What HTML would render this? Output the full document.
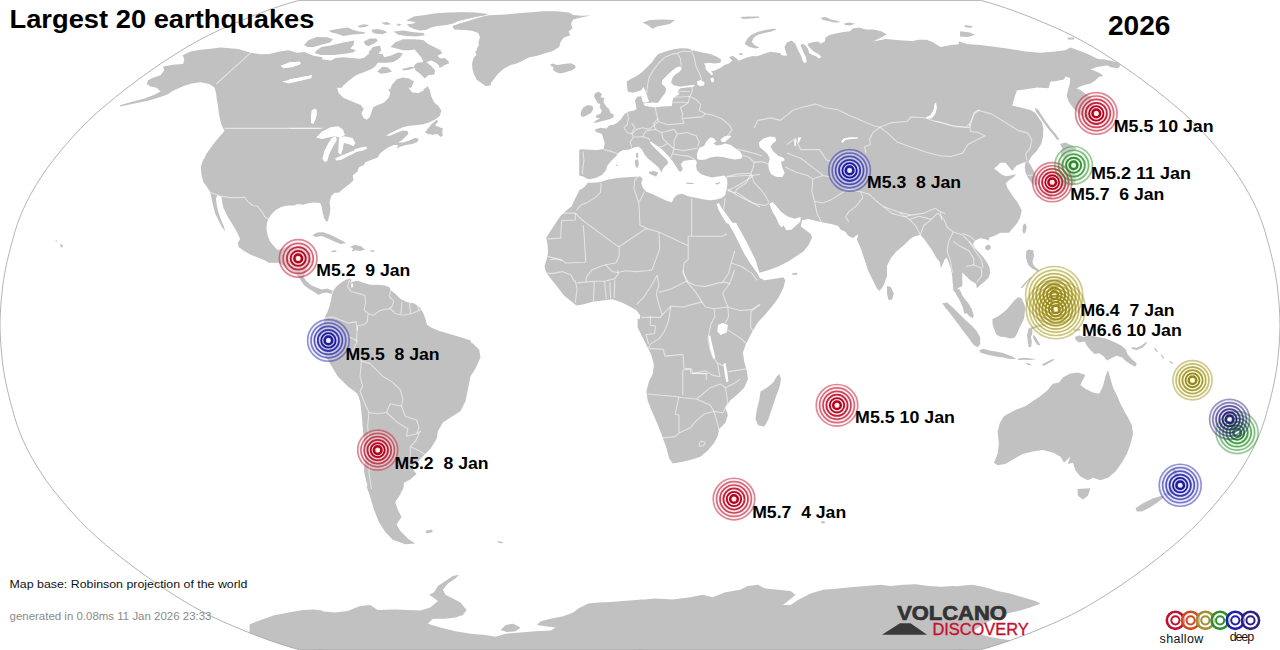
<!DOCTYPE html>
<html><head><meta charset="utf-8"><title>Largest 20 earthquakes</title>
<style>
html,body{margin:0;padding:0;background:#fff;}
body{width:1280px;height:650px;overflow:hidden;font-family:"Liberation Sans",sans-serif;}
svg{display:block;position:absolute;left:0;top:0;}
text{font-family:"Liberation Sans",sans-serif;}
.lbl{font-weight:bold;font-size:17px;fill:#000;}
</style></head>
<body>
<svg width="1280" height="650" viewBox="0 0 1280 650">
<rect width="1280" height="650" fill="#fff"/>
<defs><clipPath id="clip"><path d="M299.4,649.6 294.9,648.4 290.0,647.1 284.9,645.5 279.5,643.8 273.8,641.8 267.9,639.8 261.8,637.5 255.4,635.1 249.0,632.6 242.4,629.9 235.7,627.1 228.9,624.2 222.2,621.3 215.6,618.2 209.2,615.1 203.0,611.9 197.0,608.7 191.2,605.4 185.6,602.1 180.1,598.8 174.7,595.4 169.4,592.0 164.1,588.5 158.9,585.1 153.8,581.5 148.7,578.0 143.7,574.4 138.7,570.8 133.8,567.1 128.9,563.5 124.1,559.8 119.4,556.0 114.7,552.3 110.1,548.5 105.6,544.7 101.2,540.9 96.8,537.1 92.6,533.2 88.5,529.4 84.5,525.5 80.7,521.6 77.0,517.7 73.4,513.7 69.9,509.8 66.4,505.8 63.0,501.9 59.7,497.9 56.4,493.9 53.2,489.9 50.2,485.9 47.2,481.9 44.4,477.9 41.8,473.9 39.2,469.9 36.7,465.9 34.3,461.9 31.9,457.8 29.7,453.8 27.6,449.8 25.6,445.8 23.7,441.7 21.9,437.7 20.3,433.7 18.7,429.7 17.3,425.6 16.0,421.6 14.7,417.6 13.6,413.6 12.5,409.5 11.4,405.5 10.3,401.5 9.3,397.5 8.3,393.4 7.3,389.4 6.4,385.4 5.6,381.4 4.8,377.3 4.1,373.3 3.5,369.3 2.9,365.3 2.4,361.2 2.0,357.2 1.6,353.2 1.2,349.2 0.9,345.1 0.6,341.1 0.4,337.1 0.2,333.1 0.1,329.0 0.0,325.0 0.1,321.0 0.2,316.9 0.4,312.9 0.6,308.9 0.9,304.9 1.2,300.8 1.6,296.8 2.0,292.8 2.4,288.8 2.9,284.7 3.5,280.7 4.1,276.7 4.8,272.7 5.6,268.6 6.4,264.6 7.3,260.6 8.3,256.6 9.3,252.5 10.3,248.5 11.4,244.5 12.5,240.5 13.6,236.4 14.7,232.4 16.0,228.4 17.3,224.4 18.7,220.3 20.3,216.3 21.9,212.3 23.7,208.3 25.6,204.2 27.6,200.2 29.7,196.2 31.9,192.2 34.3,188.1 36.7,184.1 39.2,180.1 41.8,176.1 44.4,172.1 47.2,168.1 50.2,164.1 53.2,160.1 56.4,156.1 59.7,152.1 63.0,148.1 66.4,144.2 69.9,140.2 73.4,136.3 77.0,132.3 80.7,128.4 84.5,124.5 88.5,120.6 92.6,116.8 96.8,112.9 101.2,109.1 105.6,105.3 110.1,101.5 114.7,97.7 119.4,94.0 124.1,90.2 128.9,86.5 133.8,82.9 138.7,79.2 143.7,75.6 148.7,72.0 153.8,68.5 158.9,64.9 164.1,61.5 169.4,58.0 174.7,54.6 180.1,51.2 185.6,47.9 191.2,44.6 197.0,41.3 203.0,38.1 209.2,34.9 215.6,31.8 222.2,28.7 228.9,25.8 235.7,22.9 242.4,20.1 249.0,17.4 255.4,14.9 261.8,12.5 267.9,10.2 273.8,8.2 279.5,6.2 284.9,4.5 290.0,2.9 294.9,1.6 299.4,0.4 980.6,0.4 985.1,1.6 990.0,2.9 995.1,4.5 1000.5,6.2 1006.2,8.2 1012.1,10.2 1018.2,12.5 1024.6,14.9 1031.0,17.4 1037.6,20.1 1044.3,22.9 1051.1,25.8 1057.8,28.7 1064.4,31.8 1070.8,34.9 1077.0,38.1 1083.0,41.3 1088.8,44.6 1094.4,47.9 1099.9,51.2 1105.3,54.6 1110.6,58.0 1115.9,61.5 1121.1,64.9 1126.2,68.5 1131.3,72.0 1136.3,75.6 1141.3,79.2 1146.2,82.9 1151.1,86.5 1155.9,90.2 1160.6,94.0 1165.3,97.7 1169.9,101.5 1174.4,105.3 1178.8,109.1 1183.2,112.9 1187.4,116.8 1191.5,120.6 1195.5,124.5 1199.3,128.4 1203.0,132.3 1206.6,136.3 1210.1,140.2 1213.6,144.2 1217.0,148.1 1220.3,152.1 1223.6,156.1 1226.8,160.1 1229.8,164.1 1232.8,168.1 1235.6,172.1 1238.2,176.1 1240.8,180.1 1243.3,184.1 1245.7,188.1 1248.1,192.2 1250.3,196.2 1252.4,200.2 1254.4,204.2 1256.3,208.3 1258.1,212.3 1259.7,216.3 1261.3,220.3 1262.7,224.4 1264.0,228.4 1265.3,232.4 1266.4,236.4 1267.5,240.5 1268.6,244.5 1269.7,248.5 1270.7,252.5 1271.7,256.6 1272.7,260.6 1273.6,264.6 1274.4,268.6 1275.2,272.7 1275.9,276.7 1276.5,280.7 1277.1,284.7 1277.6,288.8 1278.0,292.8 1278.4,296.8 1278.8,300.8 1279.1,304.9 1279.4,308.9 1279.6,312.9 1279.8,316.9 1279.9,321.0 1280.0,325.0 1279.9,329.0 1279.8,333.1 1279.6,337.1 1279.4,341.1 1279.1,345.1 1278.8,349.2 1278.4,353.2 1278.0,357.2 1277.6,361.2 1277.1,365.3 1276.5,369.3 1275.9,373.3 1275.2,377.3 1274.4,381.4 1273.6,385.4 1272.7,389.4 1271.7,393.4 1270.7,397.5 1269.7,401.5 1268.6,405.5 1267.5,409.5 1266.4,413.6 1265.3,417.6 1264.0,421.6 1262.7,425.6 1261.3,429.7 1259.7,433.7 1258.1,437.7 1256.3,441.7 1254.4,445.8 1252.4,449.8 1250.3,453.8 1248.1,457.8 1245.7,461.9 1243.3,465.9 1240.8,469.9 1238.2,473.9 1235.6,477.9 1232.8,481.9 1229.8,485.9 1226.8,489.9 1223.6,493.9 1220.3,497.9 1217.0,501.9 1213.6,505.8 1210.1,509.8 1206.6,513.7 1203.0,517.7 1199.3,521.6 1195.5,525.5 1191.5,529.4 1187.4,533.2 1183.2,537.1 1178.8,540.9 1174.4,544.7 1169.9,548.5 1165.3,552.3 1160.6,556.0 1155.9,559.8 1151.1,563.5 1146.2,567.1 1141.3,570.8 1136.3,574.4 1131.3,578.0 1126.2,581.5 1121.1,585.1 1115.9,588.5 1110.6,592.0 1105.3,595.4 1099.9,598.8 1094.4,602.1 1088.8,605.4 1083.0,608.7 1077.0,611.9 1070.8,615.1 1064.4,618.2 1057.8,621.3 1051.1,624.2 1044.3,627.1 1037.6,629.9 1031.0,632.6 1024.6,635.1 1018.2,637.5 1012.1,639.8 1006.2,641.8 1000.5,643.8 995.1,645.5 990.0,647.1 985.1,648.4 980.6,649.6Z"/></clipPath></defs>
<g clip-path="url(#clip)">
<g fill="#c1c1c1" stroke="none">
<path d="M201.9,164.3 206.1,154.2 213.2,144.2 219.4,136.7 224.5,130.9 221.7,125.4 220.2,119.9 218.9,114.1 218.2,108.3 217.7,104.1 216.7,99.1 216.2,94.0 214.7,87.8 209.4,84.0 200.6,82.3 191.8,83.5 184.3,85.8 178.6,88.3 173.0,90.8 166.8,94.8 158.0,97.8 148.0,100.8 135.4,103.3 120.4,106.6 119.9,105.3 132.9,101.6 145.5,98.3 154.2,94.8 160.5,91.5 156.7,87.8 150.5,86.5 146.7,84.0 148.0,80.3 153.0,77.7 160.5,75.2 164.3,70.2 163.0,66.5 173.0,64.7 183.1,63.9 184.3,58.9 182.6,55.2 190.6,51.4 200.6,49.7 208.2,48.9 220.7,47.6 238.2,48.9 250.8,52.7 260.8,54.2 269.6,53.9 278.4,51.7 288.4,50.2 297.2,52.7 304.7,51.9 313.5,55.7 322.3,57.2 322.3,164.3Z"/>
<path d="M289.2,51.0 299.4,54.1 313.5,56.5 317.5,58.8 330.8,60.4 335.5,58.0 343.3,57.3 352.7,58.0 359.0,58.8 363.7,58.0 368.4,54.1 373.1,51.8 377.1,54.1 382.5,54.1 384.1,57.3 390.4,55.7 398.2,52.5 402.9,53.3 399.8,58.0 393.5,62.0 387.3,62.7 377.8,62.7 375.5,65.9 371.6,69.0 363.7,72.2 355.9,75.3 349.6,80.0 343.3,85.5 340.2,90.2 341.0,95.7 343.3,102.7 289.2,102.7Z"/>
<path d="M368.4,52.5 373.1,47.1 380.2,45.5 381.0,50.2 377.8,54.9 371.6,54.9Z"/>
<path d="M304.1,44.7 308.8,40.0 316.7,36.9 327.6,37.3 333.1,39.2 330.0,42.4 321.4,44.7 313.5,47.1 307.3,47.1Z"/>
<path d="M315.9,51.0 321.4,47.1 330.8,45.5 337.1,43.9 343.3,42.4 348.8,41.6 354.3,40.5 353.5,44.7 350.4,48.6 355.9,50.2 352.7,52.5 343.3,54.1 333.9,54.9 321.4,54.9 315.1,53.3Z"/>
<path d="M329.2,30.6 337.1,29.0 348.0,27.5 352.7,29.8 359.0,31.4 365.3,32.2 363.7,33.7 352.7,34.5 343.3,36.1 337.1,33.7 330.8,32.2Z"/>
<path d="M357.5,25.9 363.7,24.3 369.2,25.1 365.3,27.0 359.8,27.5Z"/>
<path d="M371.6,29.8 377.8,29.0 384.1,30.6 387.3,32.2 382.5,34.2 375.5,33.7 372.4,32.2Z"/>
<path d="M363.7,41.6 370.0,38.4 376.3,38.4 377.8,40.8 373.1,43.9 368.4,46.3 365.3,44.7Z"/>
<path d="M393.5,31.4 402.9,30.6 413.9,32.2 423.3,32.9 424.9,35.3 415.5,36.4 404.5,35.8 398.2,34.8Z"/>
<path d="M406.1,20.4 413.9,16.5 424.9,14.9 435.9,13.3 448.4,12.5 462.5,12.2 475.1,12.5 486.1,13.8 487.6,14.9 478.2,16.5 468.8,18.0 459.4,20.4 453.1,23.5 446.9,25.1 437.5,25.9 431.2,27.5 426.5,29.8 420.2,30.6 413.9,29.0 409.2,26.7 406.9,24.3 413.9,23.5 415.5,22.0Z"/>
<path d="M381.0,22.7 387.3,22.0 391.2,24.3 385.7,25.1Z"/>
<path d="M397.5,23.5 401.4,24.3 399.8,25.9 396.7,25.1Z"/>
<path d="M390.4,47.1 395.1,42.4 402.9,39.2 413.9,39.2 423.3,40.0 428.0,43.9 434.3,47.1 440.6,50.2 442.2,53.3 437.5,55.7 440.6,58.8 446.9,61.2 449.2,63.5 443.7,65.1 441.4,67.5 435.9,62.7 431.2,60.4 426.5,62.0 431.2,65.9 435.1,70.6 434.3,74.5 428.0,75.3 424.9,78.4 420.2,73.7 415.5,70.6 413.9,65.9 417.1,62.7 423.3,62.0 421.8,58.0 417.8,53.3 414.7,49.4 409.2,50.2 402.9,50.2 396.7,48.6Z"/>
<path d="M377.1,71.4 382.5,66.7 388.0,67.5 392.0,71.4 387.3,72.9 381.0,73.7Z"/>
<path d="M402.2,69.0 410.8,66.7 415.5,67.5 409.2,69.8 402.9,70.6Z"/>
<path d="M390.4,102.7 388.0,94.1 392.0,84.7 396.7,79.2 402.9,77.6 409.2,78.4 413.9,81.6 411.6,87.1 409.2,90.2 415.5,91.8 423.3,89.4 428.0,86.3 429.6,91.0 431.2,97.3 432.0,102.7Z"/>
<path d="M453.1,25.9 459.4,23.5 467.3,21.2 475.1,18.8 482.9,16.5 490.8,14.9 490.8,85.5 486.1,85.5 479.8,81.6 475.9,76.9 474.3,70.6 472.0,64.3 473.5,58.0 478.2,53.3 476.7,48.6 479.8,43.9 480.6,37.6 478.2,32.9 472.0,30.6 462.5,29.8 454.7,29.0Z"/>
<path d="M289.2,89.2 429.6,89.2 431.2,96.3 434.3,102.5 438.2,105.7 441.4,110.4 439.8,115.9 435.9,119.0 429.6,122.2 423.3,124.2 415.5,125.3 409.2,125.8 402.9,127.3 396.7,130.0 390.4,133.1 385.7,136.3 390.4,135.5 396.7,132.7 402.9,130.5 407.6,131.1 408.4,133.9 405.3,137.1 402.2,139.9 398.2,142.5 402.9,142.5 409.2,140.5 415.5,137.8 418.6,138.9 417.4,142.1 412.4,144.1 406.1,144.9 399.8,146.8 396.7,148.8 398.2,144.9 393.5,144.9 387.3,148.0 382.5,151.2 379.4,154.3 377.8,157.5 371.6,159.8 365.3,162.2 363.7,165.3 359.0,166.9 357.5,171.6 352.7,175.5 353.5,180.2 349.6,184.1 343.3,188.8 338.6,192.7 289.2,192.7Z"/>
<path d="M424.9,132.4 428.0,128.4 432.0,123.7 436.7,119.8 438.2,121.4 435.1,125.3 439.0,126.9 442.9,128.4 442.2,132.4 442.9,135.5 440.6,137.1 437.5,133.9 432.7,134.7 428.0,133.9Z"/>
<path d="M203.3,159.2 201.0,166.3 201.3,174.1 203.3,182.0 207.3,187.5 210.4,192.2 212.0,200.8 213.5,207.1 215.1,213.3 219.0,221.2 222.2,227.5 225.3,231.4 223.7,225.9 220.6,218.8 218.2,211.8 216.7,204.7 215.9,198.4 217.5,195.3 221.4,196.9 222.2,202.4 223.7,208.6 227.6,216.5 232.4,224.3 237.1,232.2 240.2,239.2 237.8,243.1 238.6,247.1 244.1,251.0 251.2,254.9 259.0,258.0 265.3,260.4 268.4,262.7 312.4,262.7 309.2,254.1 306.1,247.8 299.8,245.5 293.5,247.8 290.4,252.5 284.1,254.1 278.6,251.0 274.7,247.1 270.0,241.6 267.6,235.3 266.5,229.0 266.9,222.7 268.4,218.8 271.6,214.1 275.5,210.2 281.0,207.1 287.3,205.5 293.5,205.5 298.2,203.9 302.9,204.7 309.2,203.1 315.5,202.4 320.2,203.1 321.8,207.1 322.5,211.8 324.1,218.0 326.5,222.0 328.0,220.4 329.6,214.9 330.4,208.6 329.6,202.4 331.2,196.1 335.9,191.4 342.2,186.7 348.4,180.4 353.1,174.1 356.3,169.4 362.5,164.7 367.3,159.2Z"/>
<path d="M312.4,235.3 317.1,232.5 323.3,232.2 329.6,234.5 335.9,237.6 342.2,240.8 346.1,243.1 340.6,243.9 334.3,241.6 328.0,238.4 321.8,236.1 315.5,236.9Z"/>
<path d="M350.0,247.1 354.7,244.7 361.0,246.3 364.9,249.4 360.2,251.0 355.5,250.2 351.6,251.8 353.1,248.6Z"/>
<path d="M331.2,250.7 335.9,250.2 336.7,251.8 332.0,252.2Z"/>
<path d="M370.4,250.2 374.3,250.2 374.3,251.8 370.4,251.8Z"/>
<path d="M269.2,249.4 274.7,251.0 279.4,249.4 288.8,246.3 301.4,247.8 310.8,252.5 309.2,260.4 306.1,269.8 303.7,277.6 306.9,281.6 311.6,285.5 317.1,287.8 321.8,289.4 327.3,288.6 332.7,291.0 332.0,294.1 326.5,292.5 321.8,293.3 318.6,294.9 313.9,291.8 308.4,288.6 303.7,284.7 300.6,280.0 296.7,274.5 288.8,268.2 279.4,263.5 273.1,258.8 269.2,257.3Z"/>
<path d="M332.7,291.8 335.9,287.1 340.6,283.1 345.3,280.0 350.0,278.4 351.6,280.0 350.3,283.1 353.1,281.6 357.8,280.8 364.1,283.1 370.4,284.7 378.2,284.7 384.5,285.5 389.2,287.1 390.8,290.2 395.5,294.1 400.2,298.8 406.5,302.0 414.3,303.5 419.8,307.5 422.9,312.2 425.3,318.4 426.9,324.7 431.6,327.8 439.4,331.0 447.3,333.3 455.1,335.7 462.9,338.0 470.8,340.4 470.8,342.7 317.1,342.7 320.2,334.1 323.3,324.7 324.9,316.9 327.3,312.2 329.6,305.9 331.2,299.6 332.0,294.1Z"/>
<path d="M320.0,324.7 417.8,324.7 420.3,331.0 427.8,332.3 432.9,329.8 445.4,333.5 460.4,337.3 473.0,343.6 479.2,349.8 480.5,357.3 475.5,368.6 470.5,376.2 468.0,388.7 465.5,401.2 460.4,411.3 450.4,417.5 442.9,422.6 437.9,431.3 436.6,438.9 430.3,448.9 422.8,456.4 416.6,462.7 411.5,467.7 416.6,474.0 410.3,479.5 404.0,482.7 402.8,490.3 368.9,490.3 366.4,481.5 363.9,471.5 365.1,456.4 363.9,438.9 362.6,426.3 361.4,411.3 360.1,401.2 357.6,393.7 347.6,386.2 337.6,376.2 330.0,363.6 323.8,353.6 318.0,343.6 317.0,336.0Z"/>
<path d="M366.4,485.7 370.2,497.0 373.9,509.6 378.9,522.1 385.2,532.1 392.7,539.7 405.3,544.2 415.3,543.4 407.8,538.4 400.3,530.9 396.5,524.6 401.5,517.1 397.7,509.6 395.2,502.0 400.3,494.5 404.0,485.7Z"/>
<path d="M425.3,530.9 431.6,529.6 432.9,532.1 426.6,533.4Z"/>
<path d="M498.1,540.9 503.1,542.2 501.8,543.4 497.6,542.2Z"/>
<path d="M452.5,25.9 462.0,23.5 474.5,20.4 483.9,16.5 493.3,14.9 505.9,14.4 518.4,13.3 531.0,12.2 543.5,11.3 556.1,11.3 568.6,12.5 573.3,14.9 581.2,15.7 590.6,15.4 581.2,17.6 573.3,19.6 571.0,23.5 572.5,28.2 568.6,31.4 570.2,35.3 563.9,37.6 560.8,41.6 559.2,47.1 552.9,51.0 545.1,53.3 537.3,55.7 529.4,57.3 523.1,60.4 516.9,63.5 510.6,65.1 504.3,68.2 498.0,73.7 493.3,80.0 488.6,85.5 485.5,86.0 480.8,82.4 476.9,80.0 473.7,73.7 472.2,67.5 472.9,61.2 476.9,56.5 475.3,51.8 479.2,47.1 478.4,42.4 480.0,36.9 478.4,32.2 471.4,30.6 462.0,29.8 454.1,29.5Z"/>
<path d="M439.2,14.9 449.4,13.3 462.0,12.5 474.5,12.9 485.5,14.1 477.6,16.5 468.2,18.8 457.3,21.2 447.8,22.7 440.0,24.3 439.2,24.3Z"/>
<path d="M439.2,58.8 444.7,58.0 449.4,62.0 444.7,65.1 440.0,67.5 439.2,67.5Z"/>
<path d="M549.8,65.1 552.9,63.5 556.9,65.1 563.9,64.0 570.2,63.2 574.9,65.1 575.7,67.8 571.8,70.3 565.5,72.2 560.8,73.4 556.1,72.2 552.9,69.8 553.7,67.5Z"/>
<path d="M580.8,112.2 583.1,107.5 587.8,105.1 592.5,105.9 593.3,109.0 591.0,112.9 587.1,115.3 583.1,116.9 580.8,116.1Z"/>
<path d="M594.9,93.3 598.8,91.8 602.0,94.1 600.4,97.3 604.3,98.0 603.5,102.0 605.9,105.9 609.0,109.0 610.6,112.9 613.7,114.5 613.7,116.9 609.8,119.2 603.5,120.8 597.3,122.4 593.3,123.1 596.5,120.0 600.4,118.4 595.7,117.6 596.5,115.3 600.4,113.7 602.0,110.6 599.6,107.5 600.4,104.3 597.3,102.7 595.7,99.6 594.1,96.5Z"/>
<path d="M604.3,142.7 602.0,134.1 595.7,131.8 594.9,129.4 600.4,127.8 606.7,128.6 609.0,125.5 613.7,124.7 617.6,122.4 621.6,118.4 624.7,113.7 628.6,111.4 634.1,110.6 636.5,109.0 635.7,104.3 634.9,100.4 637.3,96.8 640.9,96.2 636.5,94.1 631.8,92.5 627.8,91.8 627.1,87.1 626.7,81.6 631.8,78.4 638.0,75.3 642.7,71.4 647.5,66.7 652.2,62.0 655.3,57.3 658.4,54.1 664.7,51.8 672.5,49.4 680.4,48.2 688.2,48.6 692.9,50.2 702.4,52.5 710.2,54.1 716.5,56.5 721.2,59.6 720.4,62.7 714.9,63.5 708.6,62.7 703.9,63.5 705.5,65.9 711.8,68.2 716.5,69.8 721.2,67.5 724.3,65.1 729.0,63.5 732.2,60.4 729.0,57.3 732.9,55.7 736.9,58.8 740.0,62.0 746.3,60.4 752.5,57.3 758.8,55.7 765.1,53.3 770.6,51.8 776.1,52.5 780.8,53.3 780.8,142.7Z"/>
<path d="M739.2,53.3 742.4,53.3 742.4,54.9 739.2,54.9Z"/>
<path d="M579.2,140.4 780.8,140.4 780.8,222.7 579.2,222.7Z"/>
<path d="M588.9,181.3 583.9,185.0 578.9,191.3 575.1,198.8 571.4,206.4 565.1,211.4 560.1,216.4 555.1,223.9 550.1,231.4 546.3,237.7 547.6,245.2 548.1,252.8 546.3,260.3 544.5,266.6 546.3,272.8 550.1,277.8 555.1,284.1 560.1,290.4 563.9,295.4 570.1,300.4 576.4,305.4 583.9,304.2 592.7,301.7 602.7,300.4 612.8,299.2 622.8,302.9 630.3,306.7 636.6,310.4 640.3,315.5 639.1,323.0 640.3,330.5 641.6,335.5 749.4,335.5 750.7,331.8 755.7,324.2 763.2,316.7 770.8,307.9 778.3,297.9 783.3,287.9 785.3,280.3 783.3,277.3 773.3,279.1 764.5,280.3 759.5,277.8 757.0,272.8 750.7,264.0 744.4,254.0 739.4,244.0 734.4,233.9 728.1,222.7 721.8,212.6 718.1,205.1 716.8,201.3 720.6,197.6 715.6,200.1 705.5,199.6 695.5,197.6 688.0,195.1 680.5,195.1 675.5,197.6 672.9,203.9 662.9,201.3 652.9,198.8 644.1,195.1 640.3,190.1 641.6,183.8 640.3,177.5 635.3,176.3 627.8,177.0 615.3,178.0 605.2,180.0 595.2,182.5Z"/>
<path d="M728.1,168.7 728.1,207.6 733.1,217.6 739.4,228.9 745.7,240.2 750.7,250.3 755.7,260.3 758.2,269.1 759.5,272.8 768.2,270.3 778.3,266.6 788.3,261.5 795.8,256.5 803.4,251.5 808.4,245.2 812.1,237.7 810.9,233.9 805.9,230.2 800.8,226.4 802.1,220.2 808.4,218.9 818.4,221.4 830.9,223.9 841.0,226.4 847.2,232.7 852.3,236.5 852.3,168.7Z"/>
<path d="M792.1,273.3 797.1,272.8 797.1,274.8 792.6,275.1Z"/>
<path d="M637.6,318.7 637.6,327.5 641.4,335.0 646.4,345.1 651.4,355.1 653.9,365.1 652.7,373.9 648.9,381.4 646.4,391.5 647.6,400.3 651.4,410.3 656.4,421.6 661.4,434.1 666.5,447.9 669.0,457.9 672.7,463.4 682.8,461.7 692.8,459.2 700.3,456.7 707.8,450.4 714.1,442.9 717.9,435.4 719.1,429.1 725.4,422.8 727.9,415.3 725.4,407.8 730.4,400.3 737.9,394.0 744.2,387.7 748.0,378.9 746.7,370.2 744.2,361.4 742.9,352.6 745.5,345.1 750.5,335.0 755.5,326.3 760.5,318.7Z"/>
<path d="M779.3,373.9 781.1,378.9 779.3,387.7 775.5,397.7 771.8,409.0 768.0,420.3 764.3,426.6 758.0,425.3 755.5,419.1 756.7,410.3 759.2,400.3 760.5,391.5 766.8,387.7 773.0,382.7 776.8,376.4Z"/>
<path d="M642.5,22.6 650.0,20.1 662.6,19.6 675.1,20.1 670.1,23.8 665.1,25.1 657.6,26.3 652.5,28.8 647.5,25.1Z"/>
<path d="M739.2,60.5 746.3,57.8 752.5,56.0 758.8,56.4 765.1,55.2 771.4,53.1 777.6,53.9 783.9,55.8 787.1,55.5 785.5,50.8 784.4,46.9 787.1,42.2 791.8,40.6 795.2,43.7 797.3,48.4 799.6,53.1 801.5,57.1 802.7,61.0 804.3,63.3 806.7,61.8 805.9,57.1 803.5,52.4 802.0,48.4 800.4,45.3 802.7,43.7 805.9,46.1 808.2,49.2 809.0,53.1 812.2,54.7 816.1,56.3 818.4,58.6 821.6,57.1 818.4,53.9 813.7,51.6 810.6,48.4 807.5,45.3 809.0,42.9 813.7,42.2 818.4,41.4 820.8,43.7 824.7,41.4 825.5,37.5 829.4,35.1 835.7,33.5 843.5,32.0 849.8,31.2 852.9,28.5 859.2,27.6 865.5,29.6 873.3,29.6 881.2,31.2 886.7,34.3 881.2,37.5 876.5,39.8 873.3,41.4 878.0,40.6 885.9,39.0 893.7,39.8 903.1,40.6 912.5,41.1 918.8,39.8 926.7,39.8 932.9,42.2 937.6,45.3 940.8,46.9 951.0,45.1 962.3,43.9 962.3,173.1 739.2,173.1Z"/>
<path d="M820.8,17.8 825.5,17.1 831.0,19.4 837.3,20.7 840.4,22.2 834.1,22.5 827.8,21.0 822.4,19.7Z"/>
<path d="M844.3,23.3 849.8,22.5 855.3,23.8 849.8,25.4 844.8,24.9Z"/>
<path d="M744.7,43.7 747.1,39.0 751.0,35.1 757.3,32.0 765.1,30.1 773.7,28.8 776.9,29.6 771.4,31.6 763.5,33.2 757.3,35.1 753.3,38.2 751.8,42.2 754.9,45.3 759.6,47.6 755.7,48.4 749.4,46.9Z"/>
<path d="M740.0,17.1 747.8,16.6 758.8,16.6 759.6,17.8 751.0,18.6 743.1,19.1Z"/>
<path d="M835.6,161.7 835.6,224.4 838.1,225.7 840.6,229.5 845.6,232.0 848.2,235.7 853.2,238.2 855.7,235.7 858.2,234.5 856.9,239.5 860.7,248.3 864.5,259.6 868.2,270.8 873.2,280.9 877.0,288.4 879.5,290.9 883.3,285.9 887.0,275.9 887.0,265.8 890.8,258.3 895.8,252.0 903.3,245.8 909.6,239.5 914.6,235.7 920.9,233.2 925.9,235.7 929.7,240.7 932.2,249.5 935.9,257.0 939.7,262.1 940.9,268.3 944.7,259.6 947.2,257.0 949.7,263.3 952.2,273.3 954.7,283.4 957.2,288.4 962.3,285.9 962.3,161.7Z"/>
<path d="M887.0,285.9 890.8,287.1 893.8,293.4 892.0,299.7 888.3,299.7 887.0,293.4Z"/>
<path d="M939.2,59.2 1103.1,59.2 1111.0,60.8 1118.0,62.4 1120.4,64.7 1114.1,66.3 1106.3,65.5 1096.9,67.1 1090.6,69.4 1095.3,71.0 1100.0,73.3 1103.1,75.7 1098.4,77.3 1095.3,80.4 1090.6,83.5 1084.3,85.1 1079.6,86.7 1076.5,88.2 1078.0,89.0 1081.2,90.6 1084.3,92.9 1087.5,95.3 1091.4,97.6 1090.3,101.6 1092.9,104.7 1094.5,108.6 1092.9,113.3 1091.4,118.0 1089.0,120.4 1084.3,118.0 1078.0,113.3 1072.5,107.1 1068.6,101.6 1066.7,96.1 1067.8,90.6 1069.9,83.5 1070.2,78.0 1065.5,76.5 1063.9,79.6 1059.2,80.4 1054.5,81.2 1050.6,81.6 1048.5,88.2 1037.3,87.5 1027.8,89.0 1016.9,90.6 1014.5,97.6 1012.2,105.5 1018.4,107.1 1024.7,108.6 1031.0,110.2 1035.7,113.3 1038.8,118.0 1042.0,122.7 1043.5,129.0 1042.7,135.3 1040.4,141.6 1038.0,147.8 1034.1,152.5 1030.2,157.3 1027.8,162.7 939.2,162.7Z"/>
<path d="M1034.9,107.8 1038.0,109.4 1042.0,115.7 1046.7,122.7 1051.4,129.0 1056.1,134.5 1059.2,139.2 1057.6,140.3 1053.7,135.3 1049.0,129.8 1044.3,123.5 1039.6,116.5 1036.0,111.8Z"/>
<path d="M1060.0,143.9 1065.5,142.4 1071.8,145.5 1076.5,148.6 1073.3,151.8 1068.6,154.1 1065.5,158.0 1061.6,156.5 1060.8,152.5 1062.4,148.6Z"/>
<path d="M939.2,129.2 1042.7,129.2 1043.2,136.3 1041.2,144.1 1036.5,151.2 1031.8,155.9 1028.2,161.4 1030.7,165.3 1033.3,170.0 1036.0,175.5 1038.5,180.2 1038.0,184.1 1034.1,185.2 1030.7,181.8 1027.5,177.1 1025.5,172.4 1024.7,167.6 1025.5,162.2 1021.6,163.7 1016.9,165.3 1014.5,168.4 1012.2,170.8 1009.0,166.9 1005.1,162.2 1002.0,160.6 998.0,165.3 994.1,168.4 998.0,171.6 1002.0,174.7 1005.9,176.3 1010.6,175.5 1016.1,174.2 1013.7,177.1 1009.0,180.2 1005.9,183.3 1007.5,188.0 1010.6,192.7 1013.7,197.5 1017.6,202.2 1020.0,206.9 1021.6,211.6 1020.0,217.8 1017.6,222.5 1013.7,227.3 1009.0,232.7 939.2,232.7Z"/>
<path d="M899.2,209.2 1021.6,209.2 1020.0,212.4 1017.6,217.1 1015.3,221.8 1011.4,225.7 1006.7,229.6 1000.4,232.7 994.1,235.9 989.4,237.5 988.6,240.6 984.7,239.0 980.0,238.2 975.3,240.6 972.9,243.7 975.3,248.4 979.2,252.4 983.1,257.1 987.1,262.5 989.4,267.3 990.2,272.7 988.6,277.5 984.7,281.4 980.0,285.3 976.9,288.4 976.1,283.7 972.2,281.4 969.0,279.0 965.9,275.9 962.7,272.7 958.8,272.0 956.5,274.3 955.7,279.0 956.5,285.3 958.0,290.0 961.2,294.7 965.1,299.4 969.0,304.1 971.4,308.8 972.9,313.5 964.3,313.5 962.7,307.3 960.4,301.0 956.5,294.7 953.3,288.4 952.5,280.6 951.8,272.7 950.2,266.5 947.8,260.2 945.5,255.5 942.4,257.8 937.6,258.6 935.3,255.5 931.4,249.2 927.5,243.7 923.5,238.2 920.4,235.1 915.7,235.9 909.4,238.2 904.7,241.4 899.2,246.9Z"/>
<path d="M985.5,246.1 988.6,244.5 991.0,246.4 990.2,249.2 987.1,250.5 985.2,248.4Z"/>
<path d="M1023.1,224.9 1025.5,223.3 1026.7,227.3 1025.5,232.0 1023.9,234.3 1022.4,230.4Z"/>
<path d="M1020.8,287.6 1023.9,283.7 1027.8,279.8 1031.0,277.1 1031.5,278.2 1027.8,281.4 1024.7,285.3 1022.0,288.4Z"/>
<path d="M952.5,289.2 959.6,289.2 962.7,296.3 967.5,302.5 971.4,308.8 973.7,315.1 972.9,318.2 969.0,315.9 965.1,310.4 962.0,304.9 958.8,298.6 955.7,293.1Z"/>
<path d="M942.4,303.3 947.1,302.5 953.3,308.0 959.6,314.3 965.9,320.6 972.2,326.1 976.9,331.6 980.0,337.1 980.3,344.1 977.6,347.3 973.7,344.9 969.0,338.6 964.3,332.4 959.6,326.1 954.9,319.8 950.2,313.5 945.5,308.0Z"/>
<path d="M979.2,350.4 983.1,348.8 989.4,350.4 995.7,351.5 1002.0,352.7 1008.2,355.1 1012.9,356.7 1016.1,359.0 1009.8,359.0 1003.5,357.5 997.3,356.7 991.0,355.6 984.7,354.0 980.3,352.4Z"/>
<path d="M1017.6,358.7 1023.9,357.8 1030.2,358.4 1036.5,359.0 1030.2,360.0 1023.9,359.8 1018.4,360.0Z"/>
<path d="M1025.5,362.5 1030.2,363.7 1031.5,365.6 1027.8,365.0Z"/>
<path d="M1042.0,364.5 1047.5,361.4 1052.9,359.0 1054.5,359.8 1049.0,362.9 1043.5,366.1Z"/>
<path d="M992.5,319.0 997.3,316.7 1002.0,313.5 1006.7,309.6 1010.6,304.9 1014.5,300.2 1018.4,297.1 1021.6,298.6 1023.9,303.3 1025.5,308.0 1024.7,313.5 1023.9,319.0 1021.6,323.7 1019.2,328.4 1016.9,333.9 1014.5,337.8 1009.8,338.6 1005.1,337.1 1000.4,336.7 996.5,334.7 994.1,329.2 992.5,323.7Z"/>
<path d="M1028.6,328.4 1031.8,327.6 1032.5,332.4 1031.0,337.1 1031.8,341.8 1031.0,347.3 1028.6,346.8 1027.8,341.8 1027.1,335.5Z"/>
<path d="M1033.3,334.7 1035.7,337.1 1038.0,341.0 1040.4,344.9 1038.0,345.2 1035.2,341.8 1033.0,337.8Z"/>
<path d="M1031.0,327.6 1036.5,325.3 1042.7,323.7 1047.5,324.8 1042.7,326.4 1036.5,327.6 1032.5,329.2Z"/>
<path d="M1073.3,329.2 1079.6,328.4 1080.4,330.5 1074.1,331.1Z"/>
<path d="M1083.5,336.9 1089.8,335.3 1097.6,336.9 1105.5,338.4 1113.3,341.6 1121.2,345.5 1125.9,349.4 1127.5,354.1 1131.4,358.8 1136.9,363.5 1135.3,366.7 1130.6,364.3 1125.9,361.2 1122.0,357.3 1116.5,355.7 1111.8,358.0 1107.1,360.4 1103.9,356.5 1099.2,353.3 1094.5,354.1 1090.6,350.2 1086.7,345.5 1084.3,340.8Z"/>
<path d="M1074.9,336.9 1079.6,335.3 1084.3,337.6 1085.1,341.6 1078.8,342.4 1075.7,340.0Z"/>
<path d="M1131.4,347.1 1136.9,347.8 1141.6,345.5 1145.5,342.4 1147.1,341.1 1146.3,343.9 1142.4,347.8 1136.9,349.9 1132.2,348.9Z"/>
<path d="M1153.8,347.5 1155.7,348.3 1158.0,352.1 1156.5,352.1Z"/>
<path d="M1160.4,354.1 1162.3,354.9 1164.3,358.4 1162.7,358.4Z"/>
<path d="M1169.0,360.4 1171.4,361.5 1173.3,364.0 1171.1,363.5Z"/>
<path d="M997.6,431.3 1000.1,422.6 1003.9,416.3 1015.2,410.0 1025.2,406.3 1032.7,401.2 1040.3,396.2 1047.8,389.9 1052.8,383.7 1059.1,382.4 1062.8,377.4 1070.3,373.6 1077.9,372.4 1085.4,374.9 1082.9,379.9 1080.4,384.9 1085.4,388.7 1092.9,392.5 1099.2,393.7 1102.9,386.2 1105.5,376.2 1108.0,369.9 1110.5,378.7 1113.0,387.4 1116.7,395.0 1120.5,403.7 1124.3,411.3 1128.0,417.5 1131.8,425.1 1133.0,433.8 1130.5,443.9 1126.8,453.9 1121.8,462.7 1115.5,471.5 1108.0,477.7 1100.4,480.2 1092.9,477.7 1087.9,480.2 1080.4,476.5 1075.4,470.2 1072.9,462.7 1067.8,463.9 1070.3,456.4 1064.1,462.7 1060.3,456.4 1052.8,452.6 1042.8,450.1 1032.7,451.4 1022.7,453.9 1013.9,458.9 1005.1,463.9 997.6,465.2 993.9,462.7 997.6,453.9 998.9,443.9Z"/>
<path d="M1077.4,489.0 1090.4,488.3 1087.9,495.8 1082.9,499.5 1077.9,495.8Z"/>
<path d="M1135.5,508.3 1143.1,503.3 1153.1,498.3 1161.9,495.8 1164.4,497.0 1158.1,502.0 1150.6,507.1 1141.8,511.6 1136.8,511.6Z"/>
<path d="M1163.1,494.5 1168.2,490.8 1173.2,484.5 1175.7,477.0 1171.9,469.4 1174.4,468.2 1180.7,478.2 1185.7,482.0 1181.9,487.0 1175.7,492.0 1169.4,495.8Z"/>
<path d="M958.7,586.1 972.5,584.8 985.1,587.3 997.6,591.1 1010.2,593.6 1022.7,597.3 1035.2,601.1 1040.3,603.6 1040.3,651.3 958.7,651.3Z"/>
<path d="M958.7,41.4 967.5,43.9 980.1,45.1 992.6,46.4 1010.2,48.9 1025.2,51.4 1040.3,52.7 1055.3,51.4 1065.3,50.2 1070.3,47.6 1077.9,50.2 1087.9,53.9 1097.9,58.9 1108.0,61.4 1115.5,63.9 1120.5,65.7 1118.0,68.2 1110.5,67.2 1102.9,61.4 1060.3,61.4 958.7,61.4Z"/>
<path d="M960.0,31.3 970.0,32.6 975.0,35.1 967.5,37.1 960.0,36.4Z"/>
<path d="M965.0,25.1 972.5,26.3 971.3,28.1 964.5,27.1Z"/>
<path d="M1067.8,37.6 1074.1,37.6 1074.1,39.6 1067.8,39.6Z"/>
<path d="M249.5,624.4 260.8,619.9 273.4,615.4 288.4,612.4 303.4,609.9 313.5,609.4 322.3,610.4 322.3,651.3 249.5,651.3Z"/>
<path d="M318.7,611.1 335.0,612.4 347.6,611.1 360.1,606.1 370.2,604.9 377.7,609.9 395.2,609.4 407.8,609.9 420.3,610.4 430.3,607.4 437.9,601.1 432.9,597.3 429.1,594.8 434.1,592.3 437.9,586.1 445.4,581.0 452.9,576.0 459.2,574.8 455.4,578.5 447.9,583.6 442.9,589.8 445.4,594.8 452.9,598.6 460.4,602.4 466.7,609.9 462.9,614.9 455.4,617.4 445.4,618.7 432.9,618.7 427.8,623.7 440.4,627.4 455.4,631.2 470.5,633.7 485.5,635.0 495.5,636.7 505.6,633.7 520.6,632.5 535.7,631.2 550.7,630.4 555.7,627.4 545.7,626.2 536.9,624.9 540.7,621.2 550.7,618.7 563.3,616.2 573.3,612.4 578.3,608.6 588.3,603.6 598.4,602.4 610.9,601.9 623.4,601.1 636.0,599.9 642.3,599.4 642.3,651.3 318.7,651.3Z"/>
<path d="M500.6,629.9 505.6,624.9 513.1,623.7 520.6,627.4 515.6,631.2 506.8,632.0Z"/>
<path d="M638.7,599.9 655.0,598.6 672.6,599.4 690.2,597.3 702.7,594.8 712.7,597.3 725.3,592.3 740.3,589.8 747.8,586.1 757.9,584.8 765.4,588.6 777.9,589.8 790.5,591.1 795.5,594.8 788.0,601.1 782.9,604.9 790.5,604.9 798.0,599.9 810.5,593.6 823.1,589.8 838.1,588.6 850.7,587.3 865.7,586.1 880.8,584.8 890.8,586.1 903.3,584.8 915.9,584.3 928.4,586.1 940.9,586.8 953.5,586.1 962.3,586.6 962.3,651.3 638.7,651.3Z"/>
<path d="M1065.6,158.1 1065.3,164.1 1067.1,170.1 1062.1,176.1 1060.6,180.1 1051.4,182.1 1047.2,188.1 1052.2,188.1 1059.8,186.1 1064.2,190.2 1066.2,185.3 1072.4,185.7 1075.4,183.3 1075.6,176.5 1074.5,170.9 1073.4,165.7 1068.0,158.9Z"/>
<path d="M1047.3,188.5 1044.1,191.4 1048.5,199.0 1052.1,198.6 1052.1,192.2Z"/>
<path d="M1056.3,187.3 1053.3,191.0 1055.8,193.0 1060.5,190.2Z"/>
<path d="M1026.3,250.8 1029.0,249.6 1033.2,250.2 1034.0,256.0 1032.3,262.0 1034.0,266.0 1039.5,270.3 1038.0,271.8 1032.0,268.5 1028.0,264.5 1026.0,258.0Z"/>
<path d="M60.0,244.3 62.6,244.8 63.0,247.0 60.8,247.4Z"/>
<path d="M55.5,240.2 57.0,240.6 57.2,241.8 55.8,241.6Z"/>
<path d="M821.0,521.0 825.0,521.5 824.5,523.6 821.5,523.2Z"/>
</g>
<g fill="#fff" stroke="none">
<path d="M280.4,65.7 288.4,62.7 299.7,61.4 300.9,63.9 292.2,67.2 283.4,68.2Z"/>
<path d="M282.1,81.5 293.4,79.0 304.7,76.5 312.2,75.2 311.0,78.2 300.9,80.8 288.4,83.5Z"/>
<path d="M311.7,110.3 314.7,109.1 315.5,117.9 313.5,124.1 311.0,122.9 311.0,115.4Z"/>
<path d="M289.2,62.0 296.3,62.4 301.0,63.5 296.3,65.6 289.2,65.9Z"/>
<path d="M289.2,79.2 299.4,77.6 312.0,75.3 311.2,77.2 302.5,79.7 293.1,81.6 289.2,81.9Z"/>
<path d="M337.1,87.8 338.6,93.1 343.3,97.8 352.7,101.8 360.6,104.9 363.7,108.8 361.4,113.5 363.7,118.2 366.9,119.8 370.0,116.7 373.1,107.3 377.8,104.9 384.1,102.5 388.8,97.8 390.4,93.1 387.3,87.8Z"/>
<path d="M408.4,87.8 412.4,92.4 418.6,93.1 423.3,90.8 424.1,87.8Z"/>
<path d="M316.2,137.4 321.8,131.7 330.5,127.3 338.2,126.2 343.0,129.5 344.9,135.0 340.0,137.4 334.4,136.3 328.6,137.4 321.8,139.1Z"/>
<path d="M322.5,158.7 324.4,151.0 328.3,143.2 332.0,137.7 335.8,136.3 336.9,139.9 333.0,146.5 329.2,154.3 327.3,160.9 324.4,162.0Z"/>
<path d="M339.1,137.4 344.7,136.3 352.4,138.0 355.4,142.9 353.4,146.2 348.7,144.0 343.8,142.9 342.9,148.4 341.0,154.9 338.2,152.7 338.6,145.1Z"/>
<path d="M335.2,158.2 342.9,154.9 351.3,151.6 356.2,149.9 355.3,152.7 348.5,156.0 340.8,160.0 336.1,160.4Z"/>
<path d="M353.8,149.8 360.6,147.6 366.2,146.5 367.2,148.7 361.5,150.9 355.7,152.0Z"/>
<path d="M312.0,111.2 314.3,108.8 316.7,109.6 316.7,115.1 315.1,120.6 312.7,123.7 311.2,121.4 312.0,116.7Z"/>
<path d="M350.8,283.9 352.8,283.1 353.1,287.1 351.3,287.8Z"/>
<path d="M631.8,93.0 636.5,91.8 641.2,90.2 643.5,87.1 645.9,91.8 647.5,97.3 649.0,101.5 645.9,102.7 642.7,102.0 642.0,98.8 640.9,95.7 637.3,96.2 634.1,94.1Z"/>
<path d="M680.4,66.4 682.0,68.5 679.6,71.7 674.9,74.8 672.5,78.0 671.0,82.4 673.8,85.3 680.4,86.7 688.2,85.6 693.7,84.9 695.3,85.8 692.2,86.9 686.7,87.5 680.4,88.3 677.3,91.0 679.6,94.1 676.5,95.7 673.3,98.0 672.2,102.7 671.8,105.9 667.8,106.2 661.6,106.5 655.3,107.5 649.0,106.5 645.1,105.9 643.1,103.5 647.5,102.9 652.2,102.6 656.9,102.9 658.7,102.0 661.9,97.3 665.0,93.3 666.3,89.4 664.7,86.3 661.6,83.9 662.4,80.0 665.5,76.9 669.1,73.3 672.9,70.1 677.3,67.0Z"/>
<path d="M705.5,65.9 710.2,65.1 714.9,65.9 718.0,68.2 714.9,70.6 711.0,71.4 713.3,73.7 711.8,75.3 708.6,72.2 705.5,69.0Z"/>
<path d="M696.9,81.6 700.8,80.0 704.7,82.4 703.9,85.5 700.0,86.3 697.6,84.7Z"/>
<path d="M710.2,78.4 713.3,77.6 714.1,81.6 711.8,82.4Z"/>
<path d="M578.4,139.6 603.8,139.6 604.8,143.5 603.5,149.0 597.3,150.1 589.4,149.8 583.1,149.2 578.4,149.8Z"/>
<path d="M578.4,175.2 583.1,176.5 587.1,178.8 589.4,179.6 587.8,182.7 584.7,186.7 581.6,189.0 578.4,190.6Z"/>
<path d="M587.8,179.6 595.7,178.0 602.0,174.9 605.9,170.2 607.5,165.5 610.6,161.6 615.3,156.9 619.2,152.2 623.1,150.1 628.6,149.8 634.1,147.5 638.4,146.4 641.5,149.0 644.6,154.5 648.7,159.2 653.4,163.1 658.1,167.1 660.3,170.2 661.3,172.5 663.1,168.6 665.5,165.8 668.2,163.3 667.2,160.2 662.7,155.8 657.5,150.7 652.8,146.0 650.1,142.9 650.9,141.3 653.7,143.5 658.4,146.7 663.1,150.6 667.8,155.3 670.2,158.4 672.5,161.1 674.9,164.7 676.9,167.8 678.8,171.0 681.2,171.8 682.7,168.6 680.7,164.2 683.5,161.1 689.8,160.0 695.3,160.0 696.9,162.0 696.1,165.8 697.0,170.2 700.8,174.1 705.5,175.8 711.8,177.4 718.0,176.5 724.3,175.5 726.7,178.0 727.5,182.7 726.7,189.0 725.1,195.3 722.0,197.8 716.5,199.4 710.2,200.2 703.9,199.4 696.1,197.8 688.2,196.2 682.0,193.7 677.3,194.7 674.1,197.8 671.8,202.5 665.5,200.2 658.4,197.0 652.2,193.9 645.9,191.5 642.7,187.6 641.2,182.9 642.7,179.0 640.4,176.5 634.9,176.8 627.1,177.3 617.6,178.0 608.2,179.6 600.4,182.0 592.5,182.7 587.8,182.7Z"/>
<path d="M696.9,157.6 697.3,152.2 699.2,147.9 703.9,146.0 706.7,141.2 710.2,137.6 713.3,138.0 716.5,141.2 713.3,143.5 716.5,145.4 721.2,145.1 725.1,143.5 730.6,145.1 735.3,148.2 740.0,151.4 742.4,155.3 741.6,158.4 735.3,159.5 729.0,158.4 722.7,156.9 716.5,156.4 710.2,157.6 705.5,159.5 700.8,160.0 697.6,159.2Z"/>
<path d="M720.4,139.6 724.3,136.5 729.8,135.4 731.4,136.5 727.5,139.6 725.1,142.0 722.0,142.0Z"/>
<path d="M716.5,203.9 718.8,203.1 722.7,209.4 727.5,215.7 732.9,223.5 726.7,223.5 722.7,217.3 718.8,210.2Z"/>
<path d="M769.5,203.9 772.5,202.1 776.3,205.9 781.3,212.1 787.6,216.6 794.6,218.7 800.8,217.1 800.3,221.7 796.3,225.2 791.3,229.7 786.3,230.2 783.8,225.7 781.3,227.2 778.8,223.9 775.8,217.1 772.3,211.6Z"/>
<path d="M717.9,325.0 722.9,323.0 727.9,325.0 726.6,332.5 720.4,335.0 717.4,331.3Z"/>
<path d="M708.3,336.3 710.3,335.5 712.9,347.6 715.4,357.6 713.4,358.9 710.3,348.8Z"/>
<path d="M723.4,363.9 725.4,363.1 727.4,372.7 728.4,381.4 726.4,382.2 724.6,373.9Z"/>
<path d="M758.8,142.4 763.5,138.4 769.8,136.4 775.3,137.3 776.1,140.8 772.2,143.9 770.6,147.1 773.7,151.8 778.4,155.7 783.9,158.0 784.7,160.4 780.8,162.0 782.4,167.5 784.7,172.9 782.4,176.9 776.9,176.9 771.4,174.5 769.0,169.8 768.2,164.3 769.8,158.8 767.5,154.1 763.5,150.2 759.6,147.1Z"/>
<path d="M841.2,141.6 843.5,138.4 849.8,137.3 857.6,137.3 858.0,138.6 849.8,139.2 845.1,140.0 842.7,143.1Z"/>
<path d="M925.9,117.3 930.6,114.9 933.7,109.4 934.5,103.9 936.1,102.4 936.9,107.8 935.3,114.1 932.2,118.0 927.5,119.1Z"/>
<path d="M794.1,140.0 795.7,139.2 796.2,145.5 794.6,146.3Z"/>
<path d="M798.0,137.6 801.5,137.3 800.4,139.2 798.8,143.1 797.7,142.4Z"/>
<path d="M1043.0,602.8 1030.0,607.5 1020.0,610.5 1009.0,613.0 995.0,618.0 982.0,625.0 972.0,632.0 990.0,637.0 1008.0,640.0 1060.0,642.0 1060.0,602.8Z"/>
</g>
<g fill="#c1c1c1" stroke="none">
<path d="M649.0,171.8 653.7,171.0 658.4,172.5 656.9,174.9 656.1,176.8 652.2,174.9 649.0,173.6Z"/>
<path d="M635.2,160.0 638.0,159.2 638.8,163.1 638.0,167.8 635.7,167.1 634.9,163.1Z"/>
<path d="M636.2,153.3 637.7,152.6 638.4,156.9 636.8,158.4 635.8,156.1Z"/>
<path d="M685.9,182.4 689.8,182.7 693.7,183.1 693.3,184.0 689.0,184.0 685.9,183.5Z"/>
<path d="M714.9,183.5 718.0,182.4 720.4,182.0 718.8,184.0 716.2,184.6Z"/>
<path d="M615.8,164.9 617.6,164.5 617.6,165.8 616.1,166.0Z"/>
</g>
<g fill="none" stroke="#fff" stroke-width="1.1" stroke-opacity="0.55" stroke-linejoin="round">
<path d="M250.8,52.7 216.2,84.0"/>
<path d="M224.5,128.4 322.3,128.4"/>
<path d="M289.2,128.4 319.8,128.4"/>
<path d="M210.4,192.5 216.7,194.8 221.4,196.4 230.8,197.6 241.8,197.6 244.1,196.9 248.0,201.6 252.7,205.5 257.5,206.3 262.2,211.8 264.5,216.5 268.4,219.3"/>
<path d="M601.2,182.9 600.6,192.4 595.1,197.6 588.2,201.9 580.5,205.3 576.2,210.5"/>
<path d="M560.7,213.1 575.3,213.1 575.3,220.0 561.5,220.8 560.7,238.1 547.8,238.9"/>
<path d="M575.3,213.1 582.2,220.0 615.8,244.9 619.2,246.7"/>
<path d="M583.1,225.1 583.9,232.0 585.7,262.2 565.8,263.0 562.4,260.4 546.9,256.1"/>
<path d="M619.2,246.7 643.4,230.3 646.8,228.6 639.9,225.1 639.1,204.5 636.5,195.8 633.9,189.0 634.8,180.3 638.2,176.0"/>
<path d="M639.1,201.9 643.4,194.1 644.2,191.5"/>
<path d="M646.8,228.6 658.9,232.0 688.2,245.8"/>
<path d="M658.9,232.0 659.7,249.2 654.6,263.0 652.0,269.9"/>
<path d="M691.6,198.4 691.6,236.3 688.2,236.3 688.2,245.8 688.2,259.6 683.9,263.0 683.0,273.4 688.2,282.0"/>
<path d="M691.6,236.3 722.6,236.3 726.9,233.7"/>
<path d="M619.2,246.7 619.2,256.1 615.8,263.0 605.5,264.8 600.3,266.5 591.7,269.9 586.5,276.8 585.7,282.0"/>
<path d="M605.5,264.8 612.4,271.6 617.5,272.5 626.1,270.8 636.5,271.6 646.8,270.8 652.0,269.9"/>
<path d="M734.7,251.0 731.2,263.0 728.6,273.4 722.6,282.0"/>
<path d="M731.2,263.0 741.6,266.5 751.9,273.4 757.1,280.3"/>
<path d="M550.3,259.6 557.2,258.7 562.4,260.4"/>
<path d="M546.0,273.4 553.8,273.4 562.4,271.6 571.0,275.1 574.5,282.0"/>
<path d="M725.2,198.4 723.5,209.6"/>
<path d="M727.8,190.7 738.1,193.3 746.7,199.3 760.0,207.0"/>
<path d="M727.8,190.7 734.7,187.2 746.7,180.3 753.6,175.2"/>
<path d="M726.9,176.9 738.1,176.0 753.6,175.2 760.0,174.3"/>
<path d="M575.3,280.3 577.0,289.0 575.3,302.7"/>
<path d="M594.3,281.2 593.4,302.7"/>
<path d="M604.6,281.2 606.3,299.3"/>
<path d="M609.8,282.1 610.6,298.4"/>
<path d="M614.9,280.3 614.1,297.6"/>
<path d="M577.0,282.9 594.3,281.2 604.6,281.2 614.9,278.6 618.4,273.4 617.5,270.0"/>
<path d="M657.1,275.2 650.3,287.2 643.4,297.6 636.5,304.5"/>
<path d="M657.1,275.2 658.9,285.5 656.3,294.1 658.9,304.5 662.3,314.8 660.6,317.4 641.6,317.4"/>
<path d="M658.9,292.4 670.9,289.0 686.4,281.2 683.9,273.4 683.0,270.0"/>
<path d="M662.3,314.8 670.9,306.2 683.0,307.0 695.1,303.6 701.9,301.9 705.4,307.0 714.0,308.8 727.8,307.0"/>
<path d="M686.4,281.2 695.9,292.4 701.9,301.9"/>
<path d="M686.4,281.2 695.1,285.5 705.4,286.4 719.2,282.9 725.2,282.1 729.5,283.8 722.6,293.3 727.8,307.0"/>
<path d="M729.5,283.8 734.7,270.0"/>
<path d="M727.8,307.0 739.8,310.5 751.9,309.6 760.0,304.5"/>
<path d="M727.8,307.0 728.6,316.5 725.2,323.4"/>
<path d="M726.9,329.4 741.6,338.9 746.7,344.1"/>
<path d="M760.0,304.5 751.0,311.3 750.5,326.9 753.6,332.0"/>
<path d="M714.0,308.8 714.9,316.5 710.6,325.1 709.7,329.4 708.0,338.9 709.7,347.5 712.3,356.1 717.4,363.0"/>
<path d="M670.9,306.2 668.3,321.7 664.0,332.0 658.9,338.9 650.3,344.1 648.5,348.4"/>
<path d="M650.3,315.7 650.3,325.1 655.4,326.0 654.6,333.7 646.0,334.6 648.5,344.1"/>
<path d="M648.5,348.4 663.2,349.2 664.9,356.1 683.0,354.4 683.9,368.2 691.6,369.1 692.5,373.4 706.2,373.4 706.2,380.3"/>
<path d="M692.5,373.4 705.4,370.8 712.3,375.1 720.0,376.8 717.4,363.0"/>
<path d="M728.6,371.6 745.0,369.1 748.5,368.2"/>
<path d="M717.4,363.0 722.6,365.6 726.1,363.9"/>
<path d="M647.6,394.0 675.2,396.5 682.8,397.7 696.6,399.0"/>
<path d="M679.0,396.5 675.2,414.0 679.0,415.3 679.0,432.9 675.2,436.6 662.7,437.9"/>
<path d="M679.0,432.9 690.3,427.8 696.6,420.3 704.1,414.0 714.1,411.5"/>
<path d="M696.6,399.0 710.3,405.3 714.1,411.5 717.9,425.3 719.1,430.3"/>
<path d="M696.6,399.0 710.3,387.7 720.4,383.9 725.4,387.7 727.9,402.8 722.9,412.8 714.1,411.5"/>
<path d="M682.8,370.2 682.8,395.2"/>
<path d="M682.8,370.2 690.3,368.9 690.8,373.2 707.8,373.9"/>
<path d="M725.4,387.7 735.4,382.7 740.4,378.9"/>
<path d="M699.1,443.4 701.6,440.9 705.3,442.4 703.3,445.9 699.8,446.1 699.1,443.4"/>
<path d="M347.6,336.0 357.6,341.0 352.6,351.1 361.4,361.1 370.2,363.6 373.9,367.4 382.7,376.2 392.7,382.4 400.3,389.9 402.8,398.7 401.5,406.3"/>
<path d="M361.4,361.1 360.1,376.2 362.6,386.2 360.1,391.2 363.9,401.2 368.9,412.5"/>
<path d="M368.9,412.5 377.7,413.8 386.5,412.5 390.2,403.7 401.5,406.3 405.3,416.3 416.6,420.0 419.1,427.6 416.6,433.8"/>
<path d="M386.5,412.5 397.7,422.6 407.8,428.8 406.5,436.3 416.6,433.8 420.3,431.3 415.3,441.4 410.3,446.4"/>
<path d="M410.3,446.4 420.3,451.4 427.8,456.4"/>
<path d="M410.3,446.4 410.3,461.4 411.5,467.7"/>
<path d="M368.9,412.5 367.6,426.3 368.9,438.9 370.2,456.4 368.9,471.5 371.4,489.0"/>
<path d="M349.2,280.0 347.6,287.1 351.6,291.8 361.0,294.1 364.9,295.7 365.7,302.7 364.1,309.8 368.0,313.7"/>
<path d="M390.8,290.2 389.2,296.5 393.9,301.2 392.4,305.9 389.2,309.0"/>
<path d="M368.0,313.7 373.5,315.3 379.8,310.6 386.1,309.0 390.8,309.0 395.5,313.7 403.3,315.3 411.2,313.7 419.0,310.6 422.9,309.0"/>
<path d="M401.8,302.0 401.0,313.7"/>
<path d="M409.6,302.7 410.4,313.7"/>
<path d="M417.5,305.1 419.0,310.6"/>
<path d="M324.9,318.4 332.7,316.9 340.6,320.0 348.4,323.1 356.3,321.6 357.1,331.0 356.3,342.0"/>
<path d="M368.0,313.7 367.3,321.6 364.1,324.7 357.8,325.5 357.1,331.0"/>
<path d="M332.7,291.8 332.0,294.1"/>
<path d="M646.7,93.3 647.5,85.5 649.0,77.6 653.7,69.8 658.4,63.5 664.7,57.3 672.5,54.1 677.3,53.3"/>
<path d="M677.3,53.3 680.4,58.8 681.2,65.9"/>
<path d="M677.3,53.3 683.5,51.0 689.8,51.8 692.9,50.2"/>
<path d="M692.2,51.8 694.5,58.8 696.1,66.7 699.2,72.9 701.6,79.2 697.6,83.1"/>
<path d="M692.2,86.3 692.2,91.8 689.8,96.5 688.2,102.7 683.5,105.9 680.4,107.5"/>
<path d="M689.8,96.5 696.1,99.6 700.8,104.3 699.2,110.6 705.5,113.7 713.3,115.3 721.2,118.4 729.0,124.7 732.2,129.4 729.0,134.1 725.9,137.3"/>
<path d="M680.4,107.5 682.7,113.7 682.0,118.4 684.3,123.1"/>
<path d="M682.7,118.4 692.9,117.6 702.4,116.9 705.5,113.7"/>
<path d="M655.3,108.2 656.9,115.3 658.4,121.6"/>
<path d="M677.3,91.0 689.8,91.8"/>
<path d="M674.1,97.3 689.8,96.5"/>
<path d="M672.5,102.7 680.4,102.0 688.2,102.7"/>
<path d="M658.4,121.6 667.8,124.7 677.3,123.9 684.3,123.1"/>
<path d="M627.1,112.2 628.6,118.4 627.1,124.7 623.9,127.8 627.1,132.5 631.8,134.1"/>
<path d="M631.8,134.1 636.5,129.4 642.7,127.8 649.0,129.4 658.4,121.6"/>
<path d="M754.1,127.9 757.9,120.4 770.4,117.9 780.4,120.4 793.0,110.3 800.5,107.8 815.5,104.1 825.6,107.8 838.6,109.8"/>
<path d="M838.6,110.0 848.9,115.2 859.2,119.5 873.0,125.5 879.9,127.2 890.3,122.9 907.5,121.2 910.9,116.9 924.7,117.8 935.1,121.2 950.6,125.5 966.1,127.2 969.5,123.8 974.7,113.4 979.8,110.0"/>
<path d="M879.9,127.2 886.8,132.4 897.1,141.9 910.9,147.0 926.4,152.2 940.2,155.7 950.6,156.5 962.6,153.1 967.8,144.5 978.1,139.3 985.0,135.8 978.1,132.4 970.4,131.5 969.5,123.8"/>
<path d="M879.9,127.2 873.0,132.4 869.6,139.3 870.4,144.5 864.4,147.0 866.1,153.1"/>
<path d="M786.9,144.5 795.5,138.4 800.7,149.6 819.6,149.6 826.5,160.0 831.7,161.7"/>
<path d="M786.9,153.1 800.7,158.2 814.5,168.6 823.1,175.5"/>
<path d="M785.2,166.9 795.5,172.0 807.6,175.5 812.7,178.9 811.9,191.0 814.5,201.3"/>
<path d="M812.7,178.9 823.1,175.5 831.7,177.2"/>
<path d="M814.5,201.3 823.1,203.0 831.7,199.6 842.0,192.7 848.9,189.2 855.8,191.0 861.0,191.8"/>
<path d="M814.5,201.3 817.0,213.4 821.3,222.0"/>
<path d="M861.0,191.8 862.7,197.9 855.8,206.5 848.9,211.6 845.5,216.8 848.9,222.0"/>
<path d="M861.0,191.8 869.6,194.4 876.5,201.3 883.4,206.5 897.1,211.6 910.9,215.1 923.0,213.4 935.1,208.2 940.2,211.6 945.4,213.4"/>
<path d="M883.4,206.5 892.0,213.4 904.0,216.8 910.9,215.1"/>
<path d="M940.2,211.6 941.9,220.3"/>
<path d="M935.3,121.2 940.0,122.0 955.7,126.7 969.8,127.5 973.7,113.3 977.6,110.2 991.8,114.1 1005.9,122.7 1018.4,130.6 1027.8,132.9 1031.8,140.0 1030.2,147.8 1025.5,154.1 1027.1,160.4"/>
<path d="M1013.7,168.4 1021.6,163.7 1027.8,161.4"/>
<path d="M1027.8,175.5 1035.7,174.7"/>
<path d="M920.4,235.1 923.5,225.7 931.4,219.4 937.6,213.1"/>
<path d="M937.6,213.1 943.9,219.4 947.1,227.3 953.3,232.0"/>
<path d="M953.3,232.0 948.6,241.4 947.1,250.8 950.2,260.2 952.5,272.7"/>
<path d="M953.3,232.0 962.7,235.1 969.0,241.4 975.3,248.4"/>
<path d="M953.3,241.4 959.6,246.1 969.0,250.8 973.7,258.6 973.7,264.9"/>
<path d="M965.9,266.5 973.7,264.9 981.6,268.0 981.6,275.9 976.9,282.2"/>
<path d="M969.0,241.4 975.3,250.8 981.6,260.2 983.1,268.0"/>
<path d="M962.7,233.5 969.0,235.9 975.3,240.6"/>
<path d="M909.4,219.4 915.7,225.7 920.4,235.1"/>
<path d="M900.0,213.1 909.4,219.4 918.8,216.3 931.4,219.4"/>
<path d="M603.5,149.5 611.4,151.4 617.6,153.7"/>
<path d="M583.1,151.4 583.9,160.8 582.4,171.8 583.1,174.1"/>
<path d="M631.8,147.5 630.2,142.0 633.3,137.3 631.8,132.5 634.9,127.8 631.8,123.1"/>
<path d="M633.3,137.3 642.7,136.5 649.0,138.8 649.8,140.9"/>
<path d="M642.7,136.5 645.9,131.0 655.3,129.4 661.6,132.5 667.8,131.0 674.1,129.4"/>
<path d="M655.3,129.4 653.7,123.1 658.4,118.4"/>
<path d="M661.6,132.5 663.1,138.8 667.8,143.5 674.1,149.0"/>
<path d="M667.8,143.5 661.6,146.7 658.4,146.7"/>
<path d="M674.1,149.0 672.5,153.7 670.2,158.4"/>
<path d="M674.1,149.0 683.5,150.6 692.9,149.0 697.6,148.2"/>
<path d="M672.5,153.7 680.4,155.3 688.2,156.1 695.3,160.0"/>
<path d="M677.3,134.1 686.7,132.5 696.1,135.7 699.2,142.0 697.6,146.7"/>
<path d="M674.1,129.4 677.3,134.1 674.1,140.4 674.1,149.0"/>
<path d="M742.4,155.3 749.4,157.6 754.1,162.4 753.3,167.1 751.0,173.3"/>
<path d="M736.9,149.0 746.3,151.4 755.7,153.7 762.0,156.1"/>
<path d="M726.7,176.5 736.9,174.1 751.0,173.3 754.1,182.7 760.4,189.0 765.1,195.3 769.0,202.4"/>
<path d="M736.9,195.3 752.5,203.1 765.1,205.5 769.0,203.1"/>
<path d="M751.0,174.1 746.3,182.7 736.9,189.0 734.5,193.7 736.9,195.3"/>
<path d="M727.5,189.0 734.5,193.7"/>
<path d="M754.1,162.4 762.0,161.6 768.2,163.9"/>
<path d="M284.1,254.1 290.4,252.5 292.0,247.8 296.7,247.8"/>
</g>
</g>
<path d="M299.4,649.6 294.9,648.4 290.0,647.1 284.9,645.5 279.5,643.8 273.8,641.8 267.9,639.8 261.8,637.5 255.4,635.1 249.0,632.6 242.4,629.9 235.7,627.1 228.9,624.2 222.2,621.3 215.6,618.2 209.2,615.1 203.0,611.9 197.0,608.7 191.2,605.4 185.6,602.1 180.1,598.8 174.7,595.4 169.4,592.0 164.1,588.5 158.9,585.1 153.8,581.5 148.7,578.0 143.7,574.4 138.7,570.8 133.8,567.1 128.9,563.5 124.1,559.8 119.4,556.0 114.7,552.3 110.1,548.5 105.6,544.7 101.2,540.9 96.8,537.1 92.6,533.2 88.5,529.4 84.5,525.5 80.7,521.6 77.0,517.7 73.4,513.7 69.9,509.8 66.4,505.8 63.0,501.9 59.7,497.9 56.4,493.9 53.2,489.9 50.2,485.9 47.2,481.9 44.4,477.9 41.8,473.9 39.2,469.9 36.7,465.9 34.3,461.9 31.9,457.8 29.7,453.8 27.6,449.8 25.6,445.8 23.7,441.7 21.9,437.7 20.3,433.7 18.7,429.7 17.3,425.6 16.0,421.6 14.7,417.6 13.6,413.6 12.5,409.5 11.4,405.5 10.3,401.5 9.3,397.5 8.3,393.4 7.3,389.4 6.4,385.4 5.6,381.4 4.8,377.3 4.1,373.3 3.5,369.3 2.9,365.3 2.4,361.2 2.0,357.2 1.6,353.2 1.2,349.2 0.9,345.1 0.6,341.1 0.4,337.1 0.2,333.1 0.1,329.0 0.0,325.0 0.1,321.0 0.2,316.9 0.4,312.9 0.6,308.9 0.9,304.9 1.2,300.8 1.6,296.8 2.0,292.8 2.4,288.8 2.9,284.7 3.5,280.7 4.1,276.7 4.8,272.7 5.6,268.6 6.4,264.6 7.3,260.6 8.3,256.6 9.3,252.5 10.3,248.5 11.4,244.5 12.5,240.5 13.6,236.4 14.7,232.4 16.0,228.4 17.3,224.4 18.7,220.3 20.3,216.3 21.9,212.3 23.7,208.3 25.6,204.2 27.6,200.2 29.7,196.2 31.9,192.2 34.3,188.1 36.7,184.1 39.2,180.1 41.8,176.1 44.4,172.1 47.2,168.1 50.2,164.1 53.2,160.1 56.4,156.1 59.7,152.1 63.0,148.1 66.4,144.2 69.9,140.2 73.4,136.3 77.0,132.3 80.7,128.4 84.5,124.5 88.5,120.6 92.6,116.8 96.8,112.9 101.2,109.1 105.6,105.3 110.1,101.5 114.7,97.7 119.4,94.0 124.1,90.2 128.9,86.5 133.8,82.9 138.7,79.2 143.7,75.6 148.7,72.0 153.8,68.5 158.9,64.9 164.1,61.5 169.4,58.0 174.7,54.6 180.1,51.2 185.6,47.9 191.2,44.6 197.0,41.3 203.0,38.1 209.2,34.9 215.6,31.8 222.2,28.7 228.9,25.8 235.7,22.9 242.4,20.1 249.0,17.4 255.4,14.9 261.8,12.5 267.9,10.2 273.8,8.2 279.5,6.2 284.9,4.5 290.0,2.9 294.9,1.6 299.4,0.4 980.6,0.4 985.1,1.6 990.0,2.9 995.1,4.5 1000.5,6.2 1006.2,8.2 1012.1,10.2 1018.2,12.5 1024.6,14.9 1031.0,17.4 1037.6,20.1 1044.3,22.9 1051.1,25.8 1057.8,28.7 1064.4,31.8 1070.8,34.9 1077.0,38.1 1083.0,41.3 1088.8,44.6 1094.4,47.9 1099.9,51.2 1105.3,54.6 1110.6,58.0 1115.9,61.5 1121.1,64.9 1126.2,68.5 1131.3,72.0 1136.3,75.6 1141.3,79.2 1146.2,82.9 1151.1,86.5 1155.9,90.2 1160.6,94.0 1165.3,97.7 1169.9,101.5 1174.4,105.3 1178.8,109.1 1183.2,112.9 1187.4,116.8 1191.5,120.6 1195.5,124.5 1199.3,128.4 1203.0,132.3 1206.6,136.3 1210.1,140.2 1213.6,144.2 1217.0,148.1 1220.3,152.1 1223.6,156.1 1226.8,160.1 1229.8,164.1 1232.8,168.1 1235.6,172.1 1238.2,176.1 1240.8,180.1 1243.3,184.1 1245.7,188.1 1248.1,192.2 1250.3,196.2 1252.4,200.2 1254.4,204.2 1256.3,208.3 1258.1,212.3 1259.7,216.3 1261.3,220.3 1262.7,224.4 1264.0,228.4 1265.3,232.4 1266.4,236.4 1267.5,240.5 1268.6,244.5 1269.7,248.5 1270.7,252.5 1271.7,256.6 1272.7,260.6 1273.6,264.6 1274.4,268.6 1275.2,272.7 1275.9,276.7 1276.5,280.7 1277.1,284.7 1277.6,288.8 1278.0,292.8 1278.4,296.8 1278.8,300.8 1279.1,304.9 1279.4,308.9 1279.6,312.9 1279.8,316.9 1279.9,321.0 1280.0,325.0 1279.9,329.0 1279.8,333.1 1279.6,337.1 1279.4,341.1 1279.1,345.1 1278.8,349.2 1278.4,353.2 1278.0,357.2 1277.6,361.2 1277.1,365.3 1276.5,369.3 1275.9,373.3 1275.2,377.3 1274.4,381.4 1273.6,385.4 1272.7,389.4 1271.7,393.4 1270.7,397.5 1269.7,401.5 1268.6,405.5 1267.5,409.5 1266.4,413.6 1265.3,417.6 1264.0,421.6 1262.7,425.6 1261.3,429.7 1259.7,433.7 1258.1,437.7 1256.3,441.7 1254.4,445.8 1252.4,449.8 1250.3,453.8 1248.1,457.8 1245.7,461.9 1243.3,465.9 1240.8,469.9 1238.2,473.9 1235.6,477.9 1232.8,481.9 1229.8,485.9 1226.8,489.9 1223.6,493.9 1220.3,497.9 1217.0,501.9 1213.6,505.8 1210.1,509.8 1206.6,513.7 1203.0,517.7 1199.3,521.6 1195.5,525.5 1191.5,529.4 1187.4,533.2 1183.2,537.1 1178.8,540.9 1174.4,544.7 1169.9,548.5 1165.3,552.3 1160.6,556.0 1155.9,559.8 1151.1,563.5 1146.2,567.1 1141.3,570.8 1136.3,574.4 1131.3,578.0 1126.2,581.5 1121.1,585.1 1115.9,588.5 1110.6,592.0 1105.3,595.4 1099.9,598.8 1094.4,602.1 1088.8,605.4 1083.0,608.7 1077.0,611.9 1070.8,615.1 1064.4,618.2 1057.8,621.3 1051.1,624.2 1044.3,627.1 1037.6,629.9 1031.0,632.6 1024.6,635.1 1018.2,637.5 1012.1,639.8 1006.2,641.8 1000.5,643.8 995.1,645.5 990.0,647.1 985.1,648.4 980.6,649.6Z" fill="none" stroke="#a0a0a0" stroke-width="0.8"/>
<defs><radialGradient id="g_red"><stop offset="0" stop-color="#ffd8dc" stop-opacity="0.7"/><stop offset="0.6" stop-color="#ffd8dc" stop-opacity="0.55"/><stop offset="1" stop-color="#ffd8dc" stop-opacity="0.2"/></radialGradient><radialGradient id="g_blue"><stop offset="0" stop-color="#d0d0ff" stop-opacity="0.7"/><stop offset="0.6" stop-color="#d0d0ff" stop-opacity="0.55"/><stop offset="1" stop-color="#d0d0ff" stop-opacity="0.2"/></radialGradient><radialGradient id="g_green"><stop offset="0" stop-color="#d4f0d4" stop-opacity="0.7"/><stop offset="0.6" stop-color="#d4f0d4" stop-opacity="0.55"/><stop offset="1" stop-color="#d4f0d4" stop-opacity="0.2"/></radialGradient><radialGradient id="g_olive"><stop offset="0" stop-color="#ffffc0" stop-opacity="0.7"/><stop offset="0.6" stop-color="#ffffc0" stop-opacity="0.55"/><stop offset="1" stop-color="#ffffc0" stop-opacity="0.2"/></radialGradient><radialGradient id="g_purple"><stop offset="0" stop-color="#d8d4f4" stop-opacity="0.7"/><stop offset="0.6" stop-color="#d8d4f4" stop-opacity="0.55"/><stop offset="1" stop-color="#d8d4f4" stop-opacity="0.2"/></radialGradient></defs>
<circle cx="1237.1" cy="432.6" r="21.8" fill="url(#g_green)"/>
<circle cx="1229.6" cy="419.3" r="20.8" fill="url(#g_purple)"/>
<circle cx="1180.2" cy="485.2" r="21.8" fill="url(#g_blue)"/>
<circle cx="1192.5" cy="380.3" r="20.4" fill="url(#g_olive)"/>
<circle cx="1054.2" cy="295.1" r="29.4" fill="url(#g_olive)"/>
<circle cx="1055.8" cy="309.2" r="30.3" fill="url(#g_olive)"/>
<circle cx="1052.2" cy="182.2" r="20.4" fill="url(#g_red)"/>
<circle cx="1073.6" cy="165.3" r="19.6" fill="url(#g_green)"/>
<circle cx="1096.3" cy="113.4" r="21.6" fill="url(#g_red)"/>
<circle cx="849.6" cy="170.4" r="21.6" fill="url(#g_blue)"/>
<circle cx="298.2" cy="258.4" r="19.6" fill="url(#g_red)"/>
<circle cx="328.4" cy="340.4" r="21.6" fill="url(#g_blue)"/>
<circle cx="377.7" cy="450.1" r="20.8" fill="url(#g_red)"/>
<circle cx="837.0" cy="405.3" r="21.6" fill="url(#g_red)"/>
<circle cx="734.0" cy="499.0" r="21.6" fill="url(#g_red)"/>
<g><circle cx="1237.1" cy="432.6" r="3.80" fill="none" stroke="#2a8a2a" stroke-width="2.50" stroke-opacity="1.00"/><circle cx="1237.1" cy="432.6" r="7.24" fill="none" stroke="#2a8a2a" stroke-width="1.81" stroke-opacity="1.00"/><circle cx="1237.1" cy="432.6" r="10.68" fill="none" stroke="#2a8a2a" stroke-width="1.77" stroke-opacity="0.85"/><circle cx="1237.1" cy="432.6" r="14.12" fill="none" stroke="#2a8a2a" stroke-width="1.73" stroke-opacity="0.70"/><circle cx="1237.1" cy="432.6" r="17.56" fill="none" stroke="#2a8a2a" stroke-width="1.69" stroke-opacity="0.55"/><circle cx="1237.1" cy="432.6" r="21.00" fill="none" stroke="#2a8a2a" stroke-width="1.65" stroke-opacity="0.45"/><circle cx="1237.1" cy="432.6" r="1.9" fill="#f4fff0"/></g>
<g><circle cx="1229.6" cy="419.3" r="3.80" fill="none" stroke="#2c2078" stroke-width="2.50" stroke-opacity="1.00"/><circle cx="1229.6" cy="419.3" r="7.04" fill="none" stroke="#2c2078" stroke-width="1.81" stroke-opacity="1.00"/><circle cx="1229.6" cy="419.3" r="10.28" fill="none" stroke="#2c2078" stroke-width="1.77" stroke-opacity="0.85"/><circle cx="1229.6" cy="419.3" r="13.52" fill="none" stroke="#2c2078" stroke-width="1.73" stroke-opacity="0.70"/><circle cx="1229.6" cy="419.3" r="16.76" fill="none" stroke="#2c2078" stroke-width="1.69" stroke-opacity="0.55"/><circle cx="1229.6" cy="419.3" r="20.00" fill="none" stroke="#2c2078" stroke-width="1.65" stroke-opacity="0.45"/><circle cx="1229.6" cy="419.3" r="1.9" fill="#f4f4ff"/></g>
<g><circle cx="1180.2" cy="485.2" r="3.80" fill="none" stroke="#1a1a9c" stroke-width="2.50" stroke-opacity="1.00"/><circle cx="1180.2" cy="485.2" r="7.24" fill="none" stroke="#1a1a9c" stroke-width="1.81" stroke-opacity="1.00"/><circle cx="1180.2" cy="485.2" r="10.68" fill="none" stroke="#1a1a9c" stroke-width="1.77" stroke-opacity="0.85"/><circle cx="1180.2" cy="485.2" r="14.12" fill="none" stroke="#1a1a9c" stroke-width="1.73" stroke-opacity="0.70"/><circle cx="1180.2" cy="485.2" r="17.56" fill="none" stroke="#1a1a9c" stroke-width="1.69" stroke-opacity="0.55"/><circle cx="1180.2" cy="485.2" r="21.00" fill="none" stroke="#1a1a9c" stroke-width="1.65" stroke-opacity="0.45"/><circle cx="1180.2" cy="485.2" r="1.9" fill="#f0f0d8"/></g>
<g><circle cx="1192.5" cy="380.3" r="3.80" fill="none" stroke="#96861f" stroke-width="2.50" stroke-opacity="1.00"/><circle cx="1192.5" cy="380.3" r="6.96" fill="none" stroke="#96861f" stroke-width="1.81" stroke-opacity="1.00"/><circle cx="1192.5" cy="380.3" r="10.12" fill="none" stroke="#96861f" stroke-width="1.77" stroke-opacity="0.85"/><circle cx="1192.5" cy="380.3" r="13.28" fill="none" stroke="#96861f" stroke-width="1.73" stroke-opacity="0.70"/><circle cx="1192.5" cy="380.3" r="16.44" fill="none" stroke="#96861f" stroke-width="1.69" stroke-opacity="0.55"/><circle cx="1192.5" cy="380.3" r="19.60" fill="none" stroke="#96861f" stroke-width="1.65" stroke-opacity="0.45"/><circle cx="1192.5" cy="380.3" r="1.9" fill="#fffff0"/></g>
<g><circle cx="1054.2" cy="295.1" r="3.80" fill="none" stroke="#96861f" stroke-width="2.50" stroke-opacity="1.00"/><circle cx="1054.2" cy="295.1" r="7.34" fill="none" stroke="#96861f" stroke-width="1.82" stroke-opacity="1.00"/><circle cx="1054.2" cy="295.1" r="10.89" fill="none" stroke="#96861f" stroke-width="1.79" stroke-opacity="0.94"/><circle cx="1054.2" cy="295.1" r="14.43" fill="none" stroke="#96861f" stroke-width="1.76" stroke-opacity="0.83"/><circle cx="1054.2" cy="295.1" r="17.97" fill="none" stroke="#96861f" stroke-width="1.74" stroke-opacity="0.72"/><circle cx="1054.2" cy="295.1" r="21.51" fill="none" stroke="#96861f" stroke-width="1.71" stroke-opacity="0.61"/><circle cx="1054.2" cy="295.1" r="25.06" fill="none" stroke="#96861f" stroke-width="1.68" stroke-opacity="0.51"/><circle cx="1054.2" cy="295.1" r="28.60" fill="none" stroke="#96861f" stroke-width="1.65" stroke-opacity="0.45"/><circle cx="1054.2" cy="295.1" r="1.9" fill="#fffff0"/></g>
<g><circle cx="1055.8" cy="309.2" r="3.80" fill="none" stroke="#96861f" stroke-width="2.50" stroke-opacity="1.00"/><circle cx="1055.8" cy="309.2" r="7.01" fill="none" stroke="#96861f" stroke-width="1.83" stroke-opacity="1.00"/><circle cx="1055.8" cy="309.2" r="10.22" fill="none" stroke="#96861f" stroke-width="1.80" stroke-opacity="0.96"/><circle cx="1055.8" cy="309.2" r="13.44" fill="none" stroke="#96861f" stroke-width="1.78" stroke-opacity="0.87"/><circle cx="1055.8" cy="309.2" r="16.65" fill="none" stroke="#96861f" stroke-width="1.75" stroke-opacity="0.78"/><circle cx="1055.8" cy="309.2" r="19.86" fill="none" stroke="#96861f" stroke-width="1.73" stroke-opacity="0.68"/><circle cx="1055.8" cy="309.2" r="23.07" fill="none" stroke="#96861f" stroke-width="1.70" stroke-opacity="0.59"/><circle cx="1055.8" cy="309.2" r="26.29" fill="none" stroke="#96861f" stroke-width="1.68" stroke-opacity="0.49"/><circle cx="1055.8" cy="309.2" r="29.50" fill="none" stroke="#96861f" stroke-width="1.65" stroke-opacity="0.45"/><circle cx="1055.8" cy="309.2" r="1.9" fill="#fffff0"/></g>
<g><circle cx="1052.2" cy="182.2" r="3.80" fill="none" stroke="#b4001e" stroke-width="2.50" stroke-opacity="1.00"/><circle cx="1052.2" cy="182.2" r="6.96" fill="none" stroke="#b4001e" stroke-width="1.81" stroke-opacity="1.00"/><circle cx="1052.2" cy="182.2" r="10.12" fill="none" stroke="#b4001e" stroke-width="1.77" stroke-opacity="0.85"/><circle cx="1052.2" cy="182.2" r="13.28" fill="none" stroke="#b4001e" stroke-width="1.73" stroke-opacity="0.70"/><circle cx="1052.2" cy="182.2" r="16.44" fill="none" stroke="#b4001e" stroke-width="1.69" stroke-opacity="0.55"/><circle cx="1052.2" cy="182.2" r="19.60" fill="none" stroke="#b4001e" stroke-width="1.65" stroke-opacity="0.45"/><circle cx="1052.2" cy="182.2" r="1.9" fill="#fff4e0"/></g>
<g><circle cx="1073.6" cy="165.3" r="3.80" fill="none" stroke="#2a8a2a" stroke-width="2.50" stroke-opacity="1.00"/><circle cx="1073.6" cy="165.3" r="7.55" fill="none" stroke="#2a8a2a" stroke-width="1.80" stroke-opacity="0.96"/><circle cx="1073.6" cy="165.3" r="11.30" fill="none" stroke="#2a8a2a" stroke-width="1.75" stroke-opacity="0.78"/><circle cx="1073.6" cy="165.3" r="15.05" fill="none" stroke="#2a8a2a" stroke-width="1.70" stroke-opacity="0.59"/><circle cx="1073.6" cy="165.3" r="18.80" fill="none" stroke="#2a8a2a" stroke-width="1.65" stroke-opacity="0.45"/><circle cx="1073.6" cy="165.3" r="1.9" fill="#f4fff0"/></g>
<g><circle cx="1096.3" cy="113.4" r="3.80" fill="none" stroke="#b4001e" stroke-width="2.50" stroke-opacity="1.00"/><circle cx="1096.3" cy="113.4" r="7.20" fill="none" stroke="#b4001e" stroke-width="1.81" stroke-opacity="1.00"/><circle cx="1096.3" cy="113.4" r="10.60" fill="none" stroke="#b4001e" stroke-width="1.77" stroke-opacity="0.85"/><circle cx="1096.3" cy="113.4" r="14.00" fill="none" stroke="#b4001e" stroke-width="1.73" stroke-opacity="0.70"/><circle cx="1096.3" cy="113.4" r="17.40" fill="none" stroke="#b4001e" stroke-width="1.69" stroke-opacity="0.55"/><circle cx="1096.3" cy="113.4" r="20.80" fill="none" stroke="#b4001e" stroke-width="1.65" stroke-opacity="0.45"/><circle cx="1096.3" cy="113.4" r="1.9" fill="#fff4e0"/></g>
<g><circle cx="849.6" cy="170.4" r="3.80" fill="none" stroke="#1a1a9c" stroke-width="2.50" stroke-opacity="1.00"/><circle cx="849.6" cy="170.4" r="7.20" fill="none" stroke="#1a1a9c" stroke-width="1.81" stroke-opacity="1.00"/><circle cx="849.6" cy="170.4" r="10.60" fill="none" stroke="#1a1a9c" stroke-width="1.77" stroke-opacity="0.85"/><circle cx="849.6" cy="170.4" r="14.00" fill="none" stroke="#1a1a9c" stroke-width="1.73" stroke-opacity="0.70"/><circle cx="849.6" cy="170.4" r="17.40" fill="none" stroke="#1a1a9c" stroke-width="1.69" stroke-opacity="0.55"/><circle cx="849.6" cy="170.4" r="20.80" fill="none" stroke="#1a1a9c" stroke-width="1.65" stroke-opacity="0.45"/><circle cx="849.6" cy="170.4" r="1.9" fill="#f0f0d8"/></g>
<g><circle cx="298.2" cy="258.4" r="3.80" fill="none" stroke="#b4001e" stroke-width="2.50" stroke-opacity="1.00"/><circle cx="298.2" cy="258.4" r="7.55" fill="none" stroke="#b4001e" stroke-width="1.80" stroke-opacity="0.96"/><circle cx="298.2" cy="258.4" r="11.30" fill="none" stroke="#b4001e" stroke-width="1.75" stroke-opacity="0.78"/><circle cx="298.2" cy="258.4" r="15.05" fill="none" stroke="#b4001e" stroke-width="1.70" stroke-opacity="0.59"/><circle cx="298.2" cy="258.4" r="18.80" fill="none" stroke="#b4001e" stroke-width="1.65" stroke-opacity="0.45"/><circle cx="298.2" cy="258.4" r="1.9" fill="#fff4e0"/></g>
<g><circle cx="328.4" cy="340.4" r="3.80" fill="none" stroke="#1a1a9c" stroke-width="2.50" stroke-opacity="1.00"/><circle cx="328.4" cy="340.4" r="7.20" fill="none" stroke="#1a1a9c" stroke-width="1.81" stroke-opacity="1.00"/><circle cx="328.4" cy="340.4" r="10.60" fill="none" stroke="#1a1a9c" stroke-width="1.77" stroke-opacity="0.85"/><circle cx="328.4" cy="340.4" r="14.00" fill="none" stroke="#1a1a9c" stroke-width="1.73" stroke-opacity="0.70"/><circle cx="328.4" cy="340.4" r="17.40" fill="none" stroke="#1a1a9c" stroke-width="1.69" stroke-opacity="0.55"/><circle cx="328.4" cy="340.4" r="20.80" fill="none" stroke="#1a1a9c" stroke-width="1.65" stroke-opacity="0.45"/><circle cx="328.4" cy="340.4" r="1.9" fill="#f0f0d8"/></g>
<g><circle cx="377.7" cy="450.1" r="3.80" fill="none" stroke="#b4001e" stroke-width="2.50" stroke-opacity="1.00"/><circle cx="377.7" cy="450.1" r="7.04" fill="none" stroke="#b4001e" stroke-width="1.81" stroke-opacity="1.00"/><circle cx="377.7" cy="450.1" r="10.28" fill="none" stroke="#b4001e" stroke-width="1.77" stroke-opacity="0.85"/><circle cx="377.7" cy="450.1" r="13.52" fill="none" stroke="#b4001e" stroke-width="1.73" stroke-opacity="0.70"/><circle cx="377.7" cy="450.1" r="16.76" fill="none" stroke="#b4001e" stroke-width="1.69" stroke-opacity="0.55"/><circle cx="377.7" cy="450.1" r="20.00" fill="none" stroke="#b4001e" stroke-width="1.65" stroke-opacity="0.45"/><circle cx="377.7" cy="450.1" r="1.9" fill="#fff4e0"/></g>
<g><circle cx="837.0" cy="405.3" r="3.80" fill="none" stroke="#b4001e" stroke-width="2.50" stroke-opacity="1.00"/><circle cx="837.0" cy="405.3" r="7.20" fill="none" stroke="#b4001e" stroke-width="1.81" stroke-opacity="1.00"/><circle cx="837.0" cy="405.3" r="10.60" fill="none" stroke="#b4001e" stroke-width="1.77" stroke-opacity="0.85"/><circle cx="837.0" cy="405.3" r="14.00" fill="none" stroke="#b4001e" stroke-width="1.73" stroke-opacity="0.70"/><circle cx="837.0" cy="405.3" r="17.40" fill="none" stroke="#b4001e" stroke-width="1.69" stroke-opacity="0.55"/><circle cx="837.0" cy="405.3" r="20.80" fill="none" stroke="#b4001e" stroke-width="1.65" stroke-opacity="0.45"/><circle cx="837.0" cy="405.3" r="1.9" fill="#fff4e0"/></g>
<g><circle cx="734.0" cy="499.0" r="3.80" fill="none" stroke="#b4001e" stroke-width="2.50" stroke-opacity="1.00"/><circle cx="734.0" cy="499.0" r="7.20" fill="none" stroke="#b4001e" stroke-width="1.81" stroke-opacity="1.00"/><circle cx="734.0" cy="499.0" r="10.60" fill="none" stroke="#b4001e" stroke-width="1.77" stroke-opacity="0.85"/><circle cx="734.0" cy="499.0" r="14.00" fill="none" stroke="#b4001e" stroke-width="1.73" stroke-opacity="0.70"/><circle cx="734.0" cy="499.0" r="17.40" fill="none" stroke="#b4001e" stroke-width="1.69" stroke-opacity="0.55"/><circle cx="734.0" cy="499.0" r="20.80" fill="none" stroke="#b4001e" stroke-width="1.65" stroke-opacity="0.45"/><circle cx="734.0" cy="499.0" r="1.9" fill="#fff4e0"/></g>
<text class="lbl" x="1080.5" y="315.7" textLength="94.0" lengthAdjust="spacingAndGlyphs" xml:space="preserve">M6.4  7 Jan</text>
<text class="lbl" x="1082.0" y="335.8" textLength="99.8" lengthAdjust="spacingAndGlyphs" xml:space="preserve">M6.6 10 Jan</text>
<text class="lbl" x="1070.3" y="199.8" textLength="94.0" lengthAdjust="spacingAndGlyphs" xml:space="preserve">M5.7  6 Jan</text>
<text class="lbl" x="1091.1" y="178.9" textLength="99.8" lengthAdjust="spacingAndGlyphs" xml:space="preserve">M5.2 11 Jan</text>
<text class="lbl" x="1113.8" y="131.5" textLength="99.8" lengthAdjust="spacingAndGlyphs" xml:space="preserve">M5.5 10 Jan</text>
<text class="lbl" x="867.1" y="187.8" textLength="94.0" lengthAdjust="spacingAndGlyphs" xml:space="preserve">M5.3  8 Jan</text>
<text class="lbl" x="316.3" y="276.4" textLength="94.0" lengthAdjust="spacingAndGlyphs" xml:space="preserve">M5.2  9 Jan</text>
<text class="lbl" x="345.6" y="359.9" textLength="94.0" lengthAdjust="spacingAndGlyphs" xml:space="preserve">M5.5  8 Jan</text>
<text class="lbl" x="394.5" y="469.0" textLength="94.0" lengthAdjust="spacingAndGlyphs" xml:space="preserve">M5.2  8 Jan</text>
<text class="lbl" x="855.1" y="422.8" textLength="99.8" lengthAdjust="spacingAndGlyphs" xml:space="preserve">M5.5 10 Jan</text>
<text class="lbl" x="752.2" y="517.6" textLength="94.0" lengthAdjust="spacingAndGlyphs" xml:space="preserve">M5.7  4 Jan</text>
<text x="9.5" y="27.8" font-weight="bold" font-size="25.4px" textLength="305" lengthAdjust="spacingAndGlyphs">Largest 20 earthquakes</text>
<text x="1108" y="35.2" font-weight="bold" font-size="27.8px" textLength="62.5" lengthAdjust="spacingAndGlyphs">2026</text>
<text x="9.5" y="588" font-size="10.8px" fill="#111" textLength="238" lengthAdjust="spacingAndGlyphs">Map base: Robinson projection of the world</text>
<text x="9.5" y="619.5" font-size="10.8px" fill="#8a8a8a" textLength="202" lengthAdjust="spacingAndGlyphs">generated in 0.08ms 11 Jan 2026 23:33</text>
<polygon points="899.9,623.2 910.5,623.2 927.1,634.8 882,634.8" fill="#3a3a3a"/>
<text x="897.2" y="619.6" font-weight="bold" font-size="19.6px" fill="#333" stroke="#333" stroke-width="0.7" textLength="109.6" lengthAdjust="spacingAndGlyphs">VOLCANO</text>
<text x="932.4" y="634.8" font-size="15.6px" fill="#c8102e" stroke="#c8102e" stroke-width="0.35" textLength="96.3" lengthAdjust="spacingAndGlyphs">DISCOVERY</text>
<circle cx="1175.4" cy="620.3" r="8.6" fill="#fff" fill-opacity="0.6" stroke="#c01030" stroke-width="2.6"/>
<circle cx="1175.4" cy="620.3" r="4.1" fill="none" stroke="#c01030" stroke-width="2.0"/>
<circle cx="1190.6" cy="620.3" r="8.6" fill="#fff" fill-opacity="0.6" stroke="#d04a20" stroke-width="2.6"/>
<circle cx="1190.6" cy="620.3" r="4.1" fill="none" stroke="#d04a20" stroke-width="2.0"/>
<circle cx="1205.4" cy="620.3" r="8.6" fill="#fff" fill-opacity="0.6" stroke="#a09030" stroke-width="2.6"/>
<circle cx="1205.4" cy="620.3" r="4.1" fill="none" stroke="#a09030" stroke-width="2.0"/>
<circle cx="1220.1" cy="620.3" r="8.6" fill="#fff" fill-opacity="0.6" stroke="#309030" stroke-width="2.6"/>
<circle cx="1220.1" cy="620.3" r="4.1" fill="none" stroke="#309030" stroke-width="2.0"/>
<circle cx="1235.3" cy="620.3" r="8.6" fill="#fff" fill-opacity="0.6" stroke="#2020b0" stroke-width="2.6"/>
<circle cx="1235.3" cy="620.3" r="4.1" fill="none" stroke="#2020b0" stroke-width="2.0"/>
<circle cx="1250.5" cy="620.3" r="8.6" fill="#fff" fill-opacity="0.6" stroke="#302080" stroke-width="2.6"/>
<circle cx="1250.5" cy="620.3" r="4.1" fill="none" stroke="#302080" stroke-width="2.0"/>
<text x="1159.6" y="642.6" font-size="12.5px" fill="#111" textLength="43.7" lengthAdjust="spacing">shallow</text>
<text x="1229.7" y="641.0" font-size="12.5px" fill="#111" textLength="24.4" lengthAdjust="spacing">deep</text>
</svg>
</body></html>
